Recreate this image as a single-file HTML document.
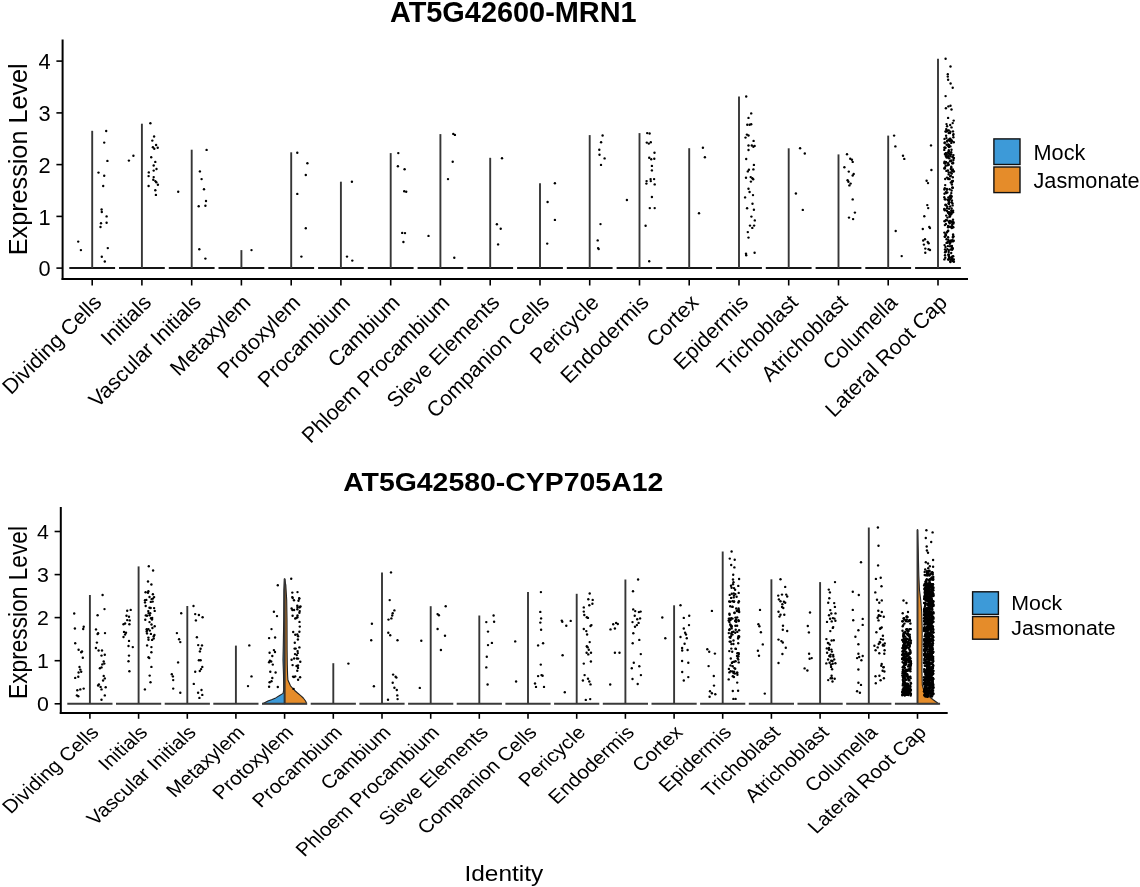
<!DOCTYPE html>
<html><head><meta charset="utf-8"><style>
html,body{margin:0;padding:0;background:#fff;}
svg{display:block;font-family:"Liberation Sans", sans-serif;will-change:transform;}
</style></head><body>
<svg width="1140" height="887" viewBox="0 0 1140 887">
<rect width="1140" height="887" fill="#fff"/>
<text transform="translate(513.30 21.70)" font-size="28.90" text-anchor="middle" font-weight="bold">AT5G42600-MRN1</text>
<text transform="translate(26.50 159.30) rotate(-90)" font-size="25.20" text-anchor="middle">Expression Level</text>
<line x1="56.4" x2="62.6" y1="268.1" y2="268.1" stroke="#000" stroke-width="1.6"/>
<text transform="translate(50.50 276.30)" font-size="21.80" text-anchor="end">0</text>
<line x1="56.4" x2="62.6" y1="216.4" y2="216.4" stroke="#000" stroke-width="1.6"/>
<text transform="translate(50.50 224.55)" font-size="21.80" text-anchor="end">1</text>
<line x1="56.4" x2="62.6" y1="164.6" y2="164.6" stroke="#000" stroke-width="1.6"/>
<text transform="translate(50.50 172.80)" font-size="21.80" text-anchor="end">2</text>
<line x1="56.4" x2="62.6" y1="112.9" y2="112.9" stroke="#000" stroke-width="1.6"/>
<text transform="translate(50.50 121.05)" font-size="21.80" text-anchor="end">3</text>
<line x1="56.4" x2="62.6" y1="61.1" y2="61.1" stroke="#000" stroke-width="1.6"/>
<text transform="translate(50.50 69.30)" font-size="21.80" text-anchor="end">4</text>

<line x1="69.3" x2="115.1" y1="268.1" y2="268.1" stroke="#151515" stroke-width="2"/>
<line x1="92.2" x2="92.2" y1="130.8" y2="268.1" stroke="#363636" stroke-width="1.9"/>
<line x1="119.0" x2="164.8" y1="268.1" y2="268.1" stroke="#151515" stroke-width="2"/>
<line x1="141.9" x2="141.9" y1="123.7" y2="268.1" stroke="#363636" stroke-width="1.9"/>
<line x1="168.8" x2="214.6" y1="268.1" y2="268.1" stroke="#151515" stroke-width="2"/>
<line x1="191.7" x2="191.7" y1="149.7" y2="268.1" stroke="#363636" stroke-width="1.9"/>
<line x1="218.5" x2="264.3" y1="268.1" y2="268.1" stroke="#151515" stroke-width="2"/>
<line x1="241.4" x2="241.4" y1="250.1" y2="268.1" stroke="#363636" stroke-width="1.9"/>
<line x1="268.3" x2="314.1" y1="268.1" y2="268.1" stroke="#151515" stroke-width="2"/>
<line x1="291.2" x2="291.2" y1="152.3" y2="268.1" stroke="#363636" stroke-width="1.9"/>
<line x1="318.1" x2="363.8" y1="268.1" y2="268.1" stroke="#151515" stroke-width="2"/>
<line x1="340.9" x2="340.9" y1="181.7" y2="268.1" stroke="#363636" stroke-width="1.9"/>
<line x1="367.8" x2="413.6" y1="268.1" y2="268.1" stroke="#151515" stroke-width="2"/>
<line x1="390.7" x2="390.7" y1="153.1" y2="268.1" stroke="#363636" stroke-width="1.9"/>
<line x1="417.6" x2="463.3" y1="268.1" y2="268.1" stroke="#151515" stroke-width="2"/>
<line x1="440.4" x2="440.4" y1="134.1" y2="268.1" stroke="#363636" stroke-width="1.9"/>
<line x1="467.3" x2="513.1" y1="268.1" y2="268.1" stroke="#151515" stroke-width="2"/>
<line x1="490.2" x2="490.2" y1="157.8" y2="268.1" stroke="#363636" stroke-width="1.9"/>
<line x1="517.1" x2="562.9" y1="268.1" y2="268.1" stroke="#151515" stroke-width="2"/>
<line x1="540.0" x2="540.0" y1="183.2" y2="268.1" stroke="#363636" stroke-width="1.9"/>
<line x1="566.8" x2="612.6" y1="268.1" y2="268.1" stroke="#151515" stroke-width="2"/>
<line x1="589.7" x2="589.7" y1="135.1" y2="268.1" stroke="#363636" stroke-width="1.9"/>
<line x1="616.6" x2="662.4" y1="268.1" y2="268.1" stroke="#151515" stroke-width="2"/>
<line x1="639.5" x2="639.5" y1="133.1" y2="268.1" stroke="#363636" stroke-width="1.9"/>
<line x1="666.3" x2="712.1" y1="268.1" y2="268.1" stroke="#151515" stroke-width="2"/>
<line x1="689.2" x2="689.2" y1="148.2" y2="268.1" stroke="#363636" stroke-width="1.9"/>
<line x1="716.1" x2="761.9" y1="268.1" y2="268.1" stroke="#151515" stroke-width="2"/>
<line x1="739.0" x2="739.0" y1="96.5" y2="268.1" stroke="#363636" stroke-width="1.9"/>
<line x1="765.8" x2="811.6" y1="268.1" y2="268.1" stroke="#151515" stroke-width="2"/>
<line x1="788.7" x2="788.7" y1="148.3" y2="268.1" stroke="#363636" stroke-width="1.9"/>
<line x1="815.6" x2="861.4" y1="268.1" y2="268.1" stroke="#151515" stroke-width="2"/>
<line x1="838.5" x2="838.5" y1="154.4" y2="268.1" stroke="#363636" stroke-width="1.9"/>
<line x1="865.3" x2="911.1" y1="268.1" y2="268.1" stroke="#151515" stroke-width="2"/>
<line x1="888.2" x2="888.2" y1="135.6" y2="268.1" stroke="#363636" stroke-width="1.9"/>
<line x1="915.1" x2="960.9" y1="268.1" y2="268.1" stroke="#151515" stroke-width="2"/>
<line x1="938.0" x2="938.0" y1="58.7" y2="268.1" stroke="#363636" stroke-width="1.9"/>
<g fill="#000"><circle cx="106.2" cy="131.0" r="1.20"/><circle cx="104.2" cy="142.6" r="1.20"/><circle cx="107.4" cy="160.9" r="1.20"/><circle cx="98.5" cy="172.6" r="1.20"/><circle cx="104.2" cy="175.7" r="1.20"/><circle cx="103.2" cy="186.0" r="1.20"/><circle cx="101.6" cy="209.5" r="1.20"/><circle cx="101.8" cy="212.0" r="1.20"/><circle cx="106.6" cy="216.4" r="1.20"/><circle cx="101.0" cy="223.3" r="1.20"/><circle cx="106.6" cy="222.7" r="1.20"/><circle cx="100.5" cy="227.0" r="1.20"/><circle cx="78.2" cy="241.6" r="1.20"/><circle cx="80.9" cy="250.1" r="1.20"/><circle cx="107.8" cy="248.1" r="1.20"/><circle cx="101.8" cy="256.8" r="1.20"/><circle cx="104.8" cy="261.5" r="1.20"/><circle cx="150.4" cy="123.3" r="1.20"/><circle cx="154.1" cy="136.5" r="1.20"/><circle cx="152.3" cy="140.6" r="1.20"/><circle cx="152.9" cy="147.3" r="1.20"/><circle cx="154.3" cy="148.7" r="1.20"/><circle cx="156.1" cy="145.0" r="1.20"/><circle cx="157.7" cy="147.7" r="1.20"/><circle cx="133.4" cy="155.8" r="1.20"/><circle cx="128.9" cy="160.6" r="1.20"/><circle cx="151.2" cy="157.2" r="1.20"/><circle cx="155.3" cy="161.9" r="1.20"/><circle cx="153.7" cy="165.5" r="1.20"/><circle cx="156.5" cy="169.0" r="1.20"/><circle cx="153.7" cy="170.6" r="1.20"/><circle cx="148.8" cy="172.4" r="1.20"/><circle cx="148.6" cy="176.1" r="1.20"/><circle cx="153.7" cy="177.1" r="1.20"/><circle cx="153.3" cy="179.7" r="1.20"/><circle cx="155.3" cy="181.1" r="1.20"/><circle cx="156.3" cy="182.2" r="1.20"/><circle cx="157.9" cy="184.8" r="1.20"/><circle cx="148.6" cy="186.0" r="1.20"/><circle cx="155.3" cy="190.3" r="1.20"/><circle cx="155.9" cy="194.9" r="1.20"/><circle cx="206.6" cy="149.9" r="1.20"/><circle cx="199.9" cy="171.4" r="1.20"/><circle cx="201.6" cy="179.1" r="1.20"/><circle cx="204.0" cy="189.2" r="1.20"/><circle cx="178.2" cy="191.7" r="1.20"/><circle cx="206.0" cy="201.0" r="1.20"/><circle cx="198.7" cy="206.3" r="1.20"/><circle cx="205.4" cy="205.7" r="1.20"/><circle cx="199.3" cy="249.3" r="1.20"/><circle cx="205.4" cy="258.6" r="1.20"/><circle cx="251.5" cy="250.1" r="1.20"/><circle cx="297.3" cy="152.7" r="1.20"/><circle cx="307.4" cy="163.3" r="1.20"/><circle cx="305.8" cy="175.0" r="1.20"/><circle cx="297.3" cy="193.9" r="1.20"/><circle cx="305.8" cy="228.2" r="1.20"/><circle cx="301.4" cy="256.6" r="1.20"/><circle cx="351.9" cy="181.7" r="1.20"/><circle cx="347.0" cy="256.6" r="1.20"/><circle cx="352.3" cy="260.6" r="1.20"/><circle cx="398.3" cy="153.1" r="1.20"/><circle cx="397.9" cy="166.3" r="1.20"/><circle cx="404.6" cy="169.2" r="1.20"/><circle cx="404.2" cy="191.3" r="1.20"/><circle cx="406.2" cy="191.7" r="1.20"/><circle cx="402.2" cy="232.9" r="1.20"/><circle cx="405.0" cy="233.1" r="1.20"/><circle cx="403.4" cy="242.0" r="1.20"/><circle cx="453.3" cy="133.9" r="1.20"/><circle cx="454.9" cy="134.9" r="1.20"/><circle cx="452.7" cy="161.7" r="1.20"/><circle cx="448.0" cy="179.1" r="1.20"/><circle cx="428.5" cy="235.9" r="1.20"/><circle cx="454.3" cy="257.8" r="1.20"/><circle cx="502.0" cy="158.2" r="1.20"/><circle cx="496.9" cy="224.3" r="1.20"/><circle cx="500.7" cy="228.8" r="1.20"/><circle cx="498.1" cy="244.4" r="1.20"/><circle cx="554.9" cy="183.2" r="1.20"/><circle cx="547.6" cy="202.0" r="1.20"/><circle cx="554.9" cy="219.9" r="1.20"/><circle cx="547.2" cy="243.6" r="1.20"/><circle cx="602.6" cy="135.5" r="1.20"/><circle cx="601.1" cy="142.2" r="1.20"/><circle cx="599.3" cy="149.7" r="1.20"/><circle cx="599.5" cy="154.8" r="1.20"/><circle cx="604.6" cy="158.4" r="1.20"/><circle cx="601.0" cy="164.9" r="1.20"/><circle cx="600.5" cy="224.1" r="1.20"/><circle cx="597.7" cy="240.4" r="1.20"/><circle cx="598.1" cy="248.1" r="1.20"/><circle cx="598.7" cy="249.1" r="1.20"/><circle cx="647.2" cy="133.1" r="1.20"/><circle cx="649.6" cy="133.5" r="1.20"/><circle cx="646.8" cy="142.6" r="1.20"/><circle cx="648.8" cy="143.6" r="1.20"/><circle cx="650.8" cy="142.2" r="1.20"/><circle cx="654.5" cy="152.7" r="1.20"/><circle cx="649.2" cy="157.8" r="1.20"/><circle cx="651.2" cy="159.2" r="1.20"/><circle cx="654.3" cy="158.8" r="1.20"/><circle cx="651.9" cy="165.9" r="1.20"/><circle cx="651.9" cy="170.4" r="1.20"/><circle cx="646.6" cy="181.1" r="1.20"/><circle cx="646.4" cy="183.6" r="1.20"/><circle cx="650.6" cy="179.1" r="1.20"/><circle cx="650.8" cy="181.1" r="1.20"/><circle cx="654.1" cy="179.1" r="1.20"/><circle cx="654.7" cy="184.4" r="1.20"/><circle cx="626.9" cy="200.0" r="1.20"/><circle cx="651.9" cy="197.0" r="1.20"/><circle cx="649.8" cy="208.1" r="1.20"/><circle cx="654.7" cy="208.1" r="1.20"/><circle cx="645.6" cy="225.8" r="1.20"/><circle cx="649.2" cy="261.3" r="1.20"/><circle cx="702.9" cy="147.7" r="1.20"/><circle cx="704.9" cy="157.2" r="1.20"/><circle cx="699.0" cy="213.2" r="1.20"/><circle cx="746.2" cy="96.5" r="1.20"/><circle cx="751.2" cy="113.4" r="1.20"/><circle cx="748.5" cy="117.9" r="1.20"/><circle cx="747.3" cy="124.7" r="1.20"/><circle cx="749.6" cy="124.7" r="1.20"/><circle cx="751.2" cy="124.2" r="1.20"/><circle cx="746.9" cy="134.6" r="1.20"/><circle cx="748.5" cy="135.5" r="1.20"/><circle cx="745.5" cy="137.6" r="1.20"/><circle cx="753.6" cy="140.9" r="1.20"/><circle cx="748.5" cy="145.5" r="1.20"/><circle cx="751.8" cy="145.5" r="1.20"/><circle cx="753.4" cy="146.8" r="1.20"/><circle cx="754.6" cy="145.9" r="1.20"/><circle cx="748.5" cy="150.0" r="1.20"/><circle cx="746.2" cy="159.0" r="1.20"/><circle cx="753.9" cy="164.9" r="1.20"/><circle cx="748.9" cy="169.8" r="1.20"/><circle cx="747.8" cy="171.4" r="1.20"/><circle cx="753.4" cy="169.4" r="1.20"/><circle cx="746.0" cy="177.7" r="1.20"/><circle cx="750.7" cy="177.1" r="1.20"/><circle cx="752.3" cy="178.2" r="1.20"/><circle cx="753.2" cy="179.3" r="1.20"/><circle cx="750.9" cy="181.6" r="1.20"/><circle cx="748.5" cy="188.8" r="1.20"/><circle cx="749.6" cy="192.0" r="1.20"/><circle cx="753.0" cy="195.1" r="1.20"/><circle cx="745.1" cy="197.4" r="1.20"/><circle cx="752.5" cy="203.7" r="1.20"/><circle cx="747.1" cy="208.2" r="1.20"/><circle cx="753.9" cy="209.8" r="1.20"/><circle cx="751.4" cy="216.6" r="1.20"/><circle cx="754.8" cy="220.4" r="1.20"/><circle cx="750.0" cy="225.6" r="1.20"/><circle cx="752.3" cy="227.9" r="1.20"/><circle cx="754.1" cy="225.6" r="1.20"/><circle cx="747.8" cy="232.1" r="1.20"/><circle cx="748.5" cy="237.6" r="1.20"/><circle cx="746.0" cy="253.8" r="1.20"/><circle cx="746.2" cy="255.2" r="1.20"/><circle cx="754.6" cy="252.7" r="1.20"/><circle cx="800.1" cy="148.3" r="1.20"/><circle cx="804.8" cy="153.5" r="1.20"/><circle cx="795.9" cy="193.5" r="1.20"/><circle cx="802.8" cy="209.9" r="1.20"/><circle cx="847.0" cy="154.2" r="1.20"/><circle cx="850.2" cy="158.8" r="1.20"/><circle cx="851.9" cy="159.8" r="1.20"/><circle cx="852.7" cy="161.9" r="1.20"/><circle cx="844.4" cy="167.3" r="1.20"/><circle cx="848.8" cy="171.6" r="1.20"/><circle cx="853.7" cy="174.0" r="1.20"/><circle cx="852.7" cy="175.5" r="1.20"/><circle cx="847.6" cy="180.3" r="1.20"/><circle cx="848.4" cy="181.7" r="1.20"/><circle cx="850.6" cy="183.6" r="1.20"/><circle cx="849.4" cy="185.4" r="1.20"/><circle cx="852.7" cy="199.4" r="1.20"/><circle cx="854.9" cy="212.6" r="1.20"/><circle cx="849.0" cy="217.6" r="1.20"/><circle cx="853.1" cy="219.1" r="1.20"/><circle cx="894.1" cy="135.6" r="1.20"/><circle cx="895.4" cy="146.4" r="1.20"/><circle cx="903.0" cy="155.8" r="1.20"/><circle cx="904.3" cy="158.9" r="1.20"/><circle cx="895.7" cy="231.0" r="1.20"/><circle cx="901.7" cy="256.1" r="1.20"/><circle cx="931.0" cy="145.4" r="1.20"/><circle cx="931.4" cy="170.0" r="1.20"/><circle cx="926.6" cy="180.8" r="1.20"/><circle cx="928.0" cy="183.1" r="1.20"/><circle cx="927.3" cy="205.1" r="1.20"/><circle cx="928.2" cy="208.1" r="1.20"/><circle cx="924.3" cy="216.2" r="1.20"/><circle cx="922.8" cy="229.0" r="1.20"/><circle cx="929.3" cy="227.0" r="1.20"/><circle cx="930.0" cy="228.1" r="1.20"/><circle cx="925.0" cy="239.2" r="1.20"/><circle cx="923.2" cy="240.5" r="1.20"/><circle cx="927.7" cy="241.9" r="1.20"/><circle cx="923.9" cy="244.6" r="1.20"/><circle cx="928.6" cy="243.2" r="1.20"/><circle cx="925.3" cy="248.6" r="1.20"/><circle cx="928.6" cy="249.3" r="1.20"/><circle cx="930.0" cy="250.0" r="1.20"/><circle cx="925.3" cy="252.7" r="1.20"/><circle cx="945.6" cy="58.7" r="1.20"/><circle cx="950.5" cy="66.5" r="1.20"/><circle cx="947.8" cy="74.2" r="1.20"/><circle cx="947.8" cy="76.6" r="1.20"/><circle cx="948.1" cy="79.7" r="1.20"/><circle cx="950.6" cy="83.5" r="1.20"/><circle cx="952.7" cy="87.8" r="1.20"/><circle cx="945.6" cy="96.1" r="1.20"/><circle cx="945.9" cy="108.2" r="1.20"/><circle cx="948.4" cy="106.4" r="1.20"/><circle cx="950.5" cy="105.8" r="1.20"/><circle cx="951.5" cy="109.5" r="1.20"/><circle cx="948.1" cy="117.9" r="1.20"/><circle cx="953.7" cy="120.6" r="1.20"/><circle cx="952.7" cy="123.1" r="1.20"/><circle cx="946.5" cy="124.1" r="1.20"/><circle cx="947.1" cy="126.2" r="1.20"/><circle cx="950.2" cy="125.0" r="1.20"/><circle cx="951.5" cy="127.4" r="1.20"/><circle cx="949.6" cy="189.2" r="1.20"/><circle cx="948.7" cy="251.9" r="1.20"/><circle cx="949.9" cy="196.5" r="1.20"/><circle cx="949.2" cy="153.6" r="1.20"/><circle cx="951.9" cy="212.8" r="1.20"/><circle cx="947.1" cy="141.5" r="1.20"/><circle cx="952.1" cy="141.1" r="1.20"/><circle cx="944.6" cy="221.2" r="1.20"/><circle cx="953.6" cy="259.6" r="1.20"/><circle cx="950.2" cy="216.0" r="1.20"/><circle cx="944.3" cy="149.9" r="1.20"/><circle cx="944.8" cy="199.3" r="1.20"/><circle cx="946.5" cy="154.3" r="1.20"/><circle cx="948.7" cy="133.0" r="1.20"/><circle cx="952.4" cy="187.6" r="1.20"/><circle cx="950.4" cy="198.0" r="1.20"/><circle cx="950.6" cy="195.5" r="1.20"/><circle cx="946.9" cy="189.8" r="1.20"/><circle cx="953.9" cy="261.7" r="1.20"/><circle cx="951.1" cy="240.7" r="1.20"/><circle cx="946.4" cy="170.9" r="1.20"/><circle cx="944.9" cy="167.4" r="1.20"/><circle cx="948.1" cy="230.9" r="1.20"/><circle cx="947.9" cy="241.6" r="1.20"/><circle cx="952.4" cy="256.4" r="1.20"/><circle cx="946.2" cy="129.1" r="1.20"/><circle cx="948.8" cy="250.1" r="1.20"/><circle cx="948.1" cy="259.4" r="1.20"/><circle cx="950.3" cy="138.7" r="1.20"/><circle cx="946.8" cy="232.5" r="1.20"/><circle cx="947.4" cy="140.6" r="1.20"/><circle cx="951.6" cy="257.2" r="1.20"/><circle cx="946.6" cy="144.7" r="1.20"/><circle cx="944.8" cy="142.4" r="1.20"/><circle cx="945.9" cy="235.0" r="1.20"/><circle cx="948.5" cy="203.4" r="1.20"/><circle cx="951.3" cy="154.4" r="1.20"/><circle cx="950.4" cy="146.4" r="1.20"/><circle cx="948.3" cy="144.5" r="1.20"/><circle cx="946.8" cy="157.3" r="1.20"/><circle cx="952.0" cy="258.1" r="1.20"/><circle cx="952.8" cy="169.5" r="1.20"/><circle cx="948.0" cy="157.0" r="1.20"/><circle cx="950.4" cy="242.6" r="1.20"/><circle cx="953.8" cy="142.3" r="1.20"/><circle cx="946.7" cy="157.4" r="1.20"/><circle cx="947.4" cy="231.8" r="1.20"/><circle cx="944.9" cy="168.4" r="1.20"/><circle cx="949.9" cy="141.0" r="1.20"/><circle cx="950.0" cy="161.3" r="1.20"/><circle cx="948.6" cy="178.4" r="1.20"/><circle cx="948.9" cy="256.6" r="1.20"/><circle cx="952.6" cy="205.4" r="1.20"/><circle cx="945.7" cy="153.3" r="1.20"/><circle cx="952.1" cy="249.8" r="1.20"/><circle cx="946.0" cy="162.2" r="1.20"/><circle cx="953.3" cy="227.3" r="1.20"/><circle cx="953.4" cy="155.1" r="1.20"/><circle cx="950.1" cy="246.3" r="1.20"/><circle cx="945.2" cy="185.1" r="1.20"/><circle cx="953.5" cy="134.1" r="1.20"/><circle cx="951.0" cy="160.7" r="1.20"/><circle cx="952.2" cy="163.2" r="1.20"/><circle cx="947.0" cy="208.3" r="1.20"/><circle cx="951.2" cy="152.3" r="1.20"/><circle cx="946.4" cy="138.1" r="1.20"/><circle cx="952.5" cy="203.4" r="1.20"/><circle cx="946.9" cy="210.7" r="1.20"/><circle cx="946.2" cy="251.0" r="1.20"/><circle cx="946.8" cy="131.2" r="1.20"/><circle cx="944.8" cy="188.3" r="1.20"/><circle cx="947.8" cy="152.4" r="1.20"/><circle cx="945.5" cy="205.1" r="1.20"/><circle cx="952.8" cy="177.2" r="1.20"/><circle cx="950.6" cy="259.4" r="1.20"/><circle cx="949.9" cy="220.9" r="1.20"/><circle cx="944.5" cy="147.7" r="1.20"/><circle cx="953.0" cy="131.4" r="1.20"/><circle cx="953.5" cy="222.2" r="1.20"/><circle cx="950.4" cy="131.8" r="1.20"/><circle cx="951.3" cy="193.1" r="1.20"/><circle cx="953.9" cy="171.4" r="1.20"/><circle cx="949.5" cy="139.0" r="1.20"/><circle cx="952.9" cy="227.0" r="1.20"/><circle cx="951.0" cy="227.0" r="1.20"/><circle cx="953.1" cy="234.5" r="1.20"/><circle cx="950.8" cy="175.8" r="1.20"/><circle cx="952.6" cy="248.8" r="1.20"/><circle cx="951.9" cy="184.5" r="1.20"/><circle cx="949.8" cy="243.8" r="1.20"/><circle cx="947.9" cy="212.1" r="1.20"/><circle cx="950.1" cy="206.5" r="1.20"/><circle cx="950.4" cy="139.7" r="1.20"/><circle cx="952.7" cy="261.1" r="1.20"/><circle cx="948.0" cy="225.9" r="1.20"/><circle cx="949.8" cy="226.8" r="1.20"/><circle cx="952.3" cy="187.6" r="1.20"/><circle cx="951.5" cy="140.1" r="1.20"/><circle cx="950.0" cy="133.0" r="1.20"/><circle cx="946.4" cy="193.0" r="1.20"/><circle cx="949.0" cy="221.9" r="1.20"/><circle cx="953.1" cy="210.7" r="1.20"/><circle cx="944.3" cy="163.0" r="1.20"/><circle cx="950.8" cy="169.0" r="1.20"/><circle cx="945.8" cy="155.9" r="1.20"/><circle cx="950.6" cy="249.5" r="1.20"/><circle cx="952.8" cy="187.8" r="1.20"/><circle cx="950.7" cy="172.5" r="1.20"/><circle cx="948.4" cy="155.4" r="1.20"/><circle cx="953.1" cy="236.2" r="1.20"/><circle cx="947.9" cy="246.1" r="1.20"/><circle cx="947.3" cy="206.6" r="1.20"/><circle cx="949.0" cy="147.1" r="1.20"/><circle cx="952.4" cy="240.3" r="1.20"/><circle cx="953.4" cy="223.6" r="1.20"/><circle cx="945.8" cy="165.8" r="1.20"/><circle cx="946.9" cy="188.9" r="1.20"/><circle cx="948.2" cy="157.5" r="1.20"/><circle cx="949.0" cy="212.2" r="1.20"/><circle cx="952.3" cy="170.9" r="1.20"/><circle cx="948.6" cy="259.6" r="1.20"/><circle cx="944.5" cy="138.9" r="1.20"/><circle cx="944.6" cy="245.1" r="1.20"/><circle cx="949.7" cy="223.2" r="1.20"/><circle cx="951.9" cy="170.1" r="1.20"/><circle cx="945.5" cy="131.5" r="1.20"/><circle cx="944.4" cy="189.5" r="1.20"/><circle cx="946.5" cy="239.3" r="1.20"/><circle cx="944.7" cy="147.7" r="1.20"/><circle cx="948.5" cy="212.7" r="1.20"/><circle cx="950.6" cy="212.8" r="1.20"/><circle cx="953.5" cy="236.4" r="1.20"/><circle cx="946.1" cy="220.0" r="1.20"/><circle cx="945.9" cy="192.2" r="1.20"/><circle cx="948.8" cy="130.4" r="1.20"/><circle cx="945.9" cy="224.0" r="1.20"/><circle cx="947.6" cy="165.2" r="1.20"/><circle cx="949.2" cy="221.7" r="1.20"/><circle cx="951.5" cy="210.7" r="1.20"/><circle cx="951.9" cy="181.3" r="1.20"/><circle cx="945.0" cy="249.5" r="1.20"/><circle cx="951.2" cy="253.0" r="1.20"/><circle cx="948.6" cy="146.3" r="1.20"/><circle cx="953.0" cy="212.2" r="1.20"/><circle cx="949.7" cy="179.1" r="1.20"/><circle cx="951.9" cy="245.9" r="1.20"/><circle cx="948.7" cy="254.6" r="1.20"/><circle cx="946.2" cy="215.6" r="1.20"/><circle cx="952.1" cy="225.0" r="1.20"/><circle cx="951.2" cy="214.3" r="1.20"/><circle cx="952.9" cy="157.4" r="1.20"/><circle cx="953.7" cy="259.4" r="1.20"/><circle cx="951.9" cy="200.4" r="1.20"/><circle cx="953.0" cy="171.6" r="1.20"/><circle cx="947.6" cy="242.8" r="1.20"/><circle cx="948.5" cy="140.0" r="1.20"/><circle cx="951.7" cy="202.2" r="1.20"/><circle cx="944.5" cy="193.8" r="1.20"/><circle cx="944.8" cy="236.6" r="1.20"/><circle cx="945.9" cy="235.4" r="1.20"/><circle cx="951.8" cy="173.6" r="1.20"/><circle cx="945.6" cy="147.7" r="1.20"/><circle cx="951.2" cy="197.7" r="1.20"/><circle cx="950.9" cy="240.7" r="1.20"/><circle cx="949.0" cy="254.8" r="1.20"/><circle cx="945.0" cy="255.2" r="1.20"/><circle cx="949.3" cy="158.4" r="1.20"/><circle cx="951.3" cy="167.6" r="1.20"/><circle cx="949.3" cy="214.0" r="1.20"/><circle cx="949.6" cy="241.2" r="1.20"/><circle cx="947.9" cy="170.5" r="1.20"/><circle cx="952.9" cy="241.4" r="1.20"/><circle cx="952.5" cy="156.7" r="1.20"/><circle cx="949.3" cy="257.8" r="1.20"/><circle cx="946.1" cy="205.2" r="1.20"/><circle cx="949.1" cy="200.3" r="1.20"/><circle cx="944.5" cy="209.5" r="1.20"/><circle cx="949.2" cy="257.9" r="1.20"/><circle cx="952.0" cy="182.3" r="1.20"/><circle cx="949.0" cy="203.9" r="1.20"/><circle cx="944.8" cy="220.9" r="1.20"/><circle cx="948.2" cy="200.6" r="1.20"/><circle cx="953.2" cy="256.3" r="1.20"/><circle cx="948.8" cy="164.8" r="1.20"/><circle cx="948.4" cy="145.9" r="1.20"/><circle cx="952.9" cy="237.5" r="1.20"/><circle cx="947.3" cy="192.4" r="1.20"/><circle cx="950.2" cy="154.5" r="1.20"/><circle cx="945.5" cy="252.1" r="1.20"/><circle cx="944.4" cy="232.6" r="1.20"/><circle cx="946.4" cy="154.8" r="1.20"/><circle cx="947.3" cy="220.4" r="1.20"/><circle cx="950.2" cy="176.3" r="1.20"/><circle cx="951.3" cy="142.9" r="1.20"/><circle cx="949.2" cy="145.3" r="1.20"/><circle cx="946.1" cy="162.3" r="1.20"/><circle cx="948.4" cy="199.5" r="1.20"/><circle cx="948.2" cy="179.0" r="1.20"/><circle cx="945.7" cy="199.4" r="1.20"/><circle cx="950.3" cy="156.2" r="1.20"/><circle cx="949.3" cy="213.9" r="1.20"/><circle cx="950.1" cy="242.2" r="1.20"/><circle cx="946.5" cy="242.9" r="1.20"/><circle cx="952.1" cy="227.5" r="1.20"/><circle cx="947.3" cy="249.1" r="1.20"/><circle cx="953.2" cy="170.9" r="1.20"/><circle cx="953.9" cy="158.0" r="1.20"/><circle cx="945.5" cy="247.0" r="1.20"/><circle cx="951.2" cy="160.8" r="1.20"/><circle cx="945.1" cy="163.5" r="1.20"/><circle cx="948.3" cy="239.7" r="1.20"/><circle cx="945.4" cy="234.1" r="1.20"/><circle cx="950.8" cy="182.6" r="1.20"/><circle cx="946.1" cy="131.4" r="1.20"/><circle cx="953.0" cy="219.8" r="1.20"/><circle cx="945.3" cy="257.8" r="1.20"/><circle cx="951.6" cy="196.3" r="1.20"/><circle cx="950.9" cy="195.9" r="1.20"/><circle cx="944.9" cy="154.1" r="1.20"/><circle cx="944.6" cy="143.1" r="1.20"/><circle cx="949.2" cy="202.4" r="1.20"/><circle cx="945.6" cy="204.6" r="1.20"/><circle cx="946.2" cy="153.5" r="1.20"/><circle cx="953.8" cy="240.7" r="1.20"/><circle cx="945.1" cy="252.3" r="1.20"/><circle cx="953.4" cy="137.2" r="1.20"/><circle cx="951.6" cy="190.5" r="1.20"/><circle cx="948.7" cy="172.5" r="1.20"/><circle cx="948.4" cy="197.5" r="1.20"/><circle cx="944.3" cy="208.9" r="1.20"/><circle cx="952.4" cy="222.2" r="1.20"/><circle cx="948.6" cy="153.1" r="1.20"/><circle cx="948.1" cy="227.3" r="1.20"/><circle cx="945.8" cy="155.0" r="1.20"/><circle cx="944.3" cy="197.2" r="1.20"/><circle cx="952.0" cy="247.8" r="1.20"/><circle cx="952.5" cy="222.7" r="1.20"/><circle cx="948.1" cy="212.7" r="1.20"/><circle cx="949.1" cy="208.7" r="1.20"/><circle cx="952.0" cy="259.7" r="1.20"/><circle cx="953.0" cy="163.3" r="1.20"/><circle cx="951.7" cy="228.0" r="1.20"/><circle cx="948.1" cy="237.3" r="1.20"/><circle cx="952.7" cy="248.2" r="1.20"/><circle cx="951.6" cy="221.4" r="1.20"/><circle cx="948.1" cy="230.8" r="1.20"/><circle cx="944.9" cy="225.1" r="1.20"/><circle cx="948.7" cy="174.4" r="1.20"/><circle cx="947.6" cy="130.4" r="1.20"/><circle cx="950.3" cy="213.9" r="1.20"/><circle cx="953.4" cy="159.9" r="1.20"/><circle cx="947.5" cy="217.6" r="1.20"/><circle cx="949.7" cy="216.7" r="1.20"/><circle cx="948.0" cy="199.9" r="1.20"/><circle cx="950.4" cy="262.0" r="1.20"/><circle cx="951.6" cy="222.3" r="1.20"/><circle cx="944.4" cy="259.4" r="1.20"/><circle cx="951.4" cy="210.8" r="1.20"/><circle cx="948.1" cy="163.1" r="1.20"/><circle cx="946.1" cy="135.7" r="1.20"/><circle cx="945.2" cy="179.0" r="1.20"/><circle cx="953.0" cy="162.4" r="1.20"/><circle cx="949.1" cy="202.2" r="1.20"/><circle cx="949.7" cy="257.6" r="1.20"/><circle cx="950.4" cy="261.3" r="1.20"/><circle cx="944.9" cy="236.7" r="1.20"/><circle cx="951.6" cy="208.5" r="1.20"/><circle cx="953.2" cy="135.0" r="1.20"/><circle cx="948.8" cy="150.3" r="1.20"/><circle cx="949.0" cy="151.5" r="1.20"/><circle cx="944.8" cy="210.3" r="1.20"/><circle cx="948.3" cy="254.7" r="1.20"/><circle cx="950.0" cy="199.1" r="1.20"/><circle cx="947.0" cy="177.6" r="1.20"/><circle cx="949.6" cy="216.1" r="1.20"/><circle cx="951.2" cy="166.7" r="1.20"/><circle cx="944.3" cy="168.4" r="1.20"/><circle cx="944.6" cy="161.6" r="1.20"/><circle cx="951.5" cy="149.8" r="1.20"/><circle cx="952.9" cy="180.9" r="1.20"/></g>
<line x1="62.6" x2="62.6" y1="39.5" y2="280.0" stroke="#000" stroke-width="2"/>
<line x1="61.6" x2="968.0" y1="279.0" y2="279.0" stroke="#000" stroke-width="2"/>
<line x1="92.2" x2="92.2" y1="279.0" y2="285.5" stroke="#000" stroke-width="1.6"/>
<line x1="141.9" x2="141.9" y1="279.0" y2="285.5" stroke="#000" stroke-width="1.6"/>
<line x1="191.7" x2="191.7" y1="279.0" y2="285.5" stroke="#000" stroke-width="1.6"/>
<line x1="241.4" x2="241.4" y1="279.0" y2="285.5" stroke="#000" stroke-width="1.6"/>
<line x1="291.2" x2="291.2" y1="279.0" y2="285.5" stroke="#000" stroke-width="1.6"/>
<line x1="340.9" x2="340.9" y1="279.0" y2="285.5" stroke="#000" stroke-width="1.6"/>
<line x1="390.7" x2="390.7" y1="279.0" y2="285.5" stroke="#000" stroke-width="1.6"/>
<line x1="440.4" x2="440.4" y1="279.0" y2="285.5" stroke="#000" stroke-width="1.6"/>
<line x1="490.2" x2="490.2" y1="279.0" y2="285.5" stroke="#000" stroke-width="1.6"/>
<line x1="540.0" x2="540.0" y1="279.0" y2="285.5" stroke="#000" stroke-width="1.6"/>
<line x1="589.7" x2="589.7" y1="279.0" y2="285.5" stroke="#000" stroke-width="1.6"/>
<line x1="639.5" x2="639.5" y1="279.0" y2="285.5" stroke="#000" stroke-width="1.6"/>
<line x1="689.2" x2="689.2" y1="279.0" y2="285.5" stroke="#000" stroke-width="1.6"/>
<line x1="739.0" x2="739.0" y1="279.0" y2="285.5" stroke="#000" stroke-width="1.6"/>
<line x1="788.7" x2="788.7" y1="279.0" y2="285.5" stroke="#000" stroke-width="1.6"/>
<line x1="838.5" x2="838.5" y1="279.0" y2="285.5" stroke="#000" stroke-width="1.6"/>
<line x1="888.2" x2="888.2" y1="279.0" y2="285.5" stroke="#000" stroke-width="1.6"/>
<line x1="938.0" x2="938.0" y1="279.0" y2="285.5" stroke="#000" stroke-width="1.6"/>
<text transform="translate(102.70 303.80) rotate(-45)" font-size="21.40" text-anchor="end">Dividing Cells</text>
<text transform="translate(152.45 303.80) rotate(-45)" font-size="21.40" text-anchor="end">Initials</text>
<text transform="translate(202.20 303.80) rotate(-45)" font-size="21.40" text-anchor="end">Vascular Initials</text>
<text transform="translate(251.95 303.80) rotate(-45)" font-size="21.40" text-anchor="end">Metaxylem</text>
<text transform="translate(301.70 303.80) rotate(-45)" font-size="21.40" text-anchor="end">Protoxylem</text>
<text transform="translate(351.45 303.80) rotate(-45)" font-size="21.40" text-anchor="end">Procambium</text>
<text transform="translate(401.20 303.80) rotate(-45)" font-size="21.40" text-anchor="end">Cambium</text>
<text transform="translate(450.95 303.80) rotate(-45)" font-size="21.40" text-anchor="end">Phloem Procambium</text>
<text transform="translate(500.70 303.80) rotate(-45)" font-size="21.40" text-anchor="end">Sieve Elements</text>
<text transform="translate(550.45 303.80) rotate(-45)" font-size="21.40" text-anchor="end">Companion Cells</text>
<text transform="translate(600.20 303.80) rotate(-45)" font-size="21.40" text-anchor="end">Pericycle</text>
<text transform="translate(649.95 303.80) rotate(-45)" font-size="21.40" text-anchor="end">Endodermis</text>
<text transform="translate(699.70 303.80) rotate(-45)" font-size="21.40" text-anchor="end">Cortex</text>
<text transform="translate(749.45 303.80) rotate(-45)" font-size="21.40" text-anchor="end">Epidermis</text>
<text transform="translate(799.20 303.80) rotate(-45)" font-size="21.40" text-anchor="end">Trichoblast</text>
<text transform="translate(848.95 303.80) rotate(-45)" font-size="21.40" text-anchor="end">Atrichoblast</text>
<text transform="translate(898.70 303.80) rotate(-45)" font-size="21.40" text-anchor="end">Columella</text>
<text transform="translate(948.45 303.80) rotate(-45)" font-size="21.40" text-anchor="end">Lateral Root Cap</text>
<rect x="993.9" y="138.9" width="26.1" height="25.6" fill="#3d9ad8" stroke="#111" stroke-width="1.4"/>
<rect x="993.9" y="167.0" width="26.1" height="25.6" fill="#e58c2a" stroke="#111" stroke-width="1.4"/>
<text transform="translate(1033.50 160.30)" font-size="21.70">Mock</text>
<text transform="translate(1033.50 188.30)" font-size="21.70">Jasmonate</text>
<text transform="translate(503.20 491.20) scale(1.100 1)" font-size="25.85" text-anchor="middle" font-weight="bold">AT5G42580-CYP705A12</text>
<text transform="translate(26.60 612.50) scale(1.100 1) rotate(-90)" font-size="22.70" text-anchor="middle">Expression Level</text>
<line x1="54.6" x2="60.8" y1="703.8" y2="703.8" stroke="#000" stroke-width="1.6"/>
<text transform="translate(48.80 711.40) scale(1.100 1)" font-size="19.40" text-anchor="end">0</text>
<line x1="54.6" x2="60.8" y1="660.7" y2="660.7" stroke="#000" stroke-width="1.6"/>
<text transform="translate(48.80 668.32) scale(1.100 1)" font-size="19.40" text-anchor="end">1</text>
<line x1="54.6" x2="60.8" y1="617.6" y2="617.6" stroke="#000" stroke-width="1.6"/>
<text transform="translate(48.80 625.24) scale(1.100 1)" font-size="19.40" text-anchor="end">2</text>
<line x1="54.6" x2="60.8" y1="574.6" y2="574.6" stroke="#000" stroke-width="1.6"/>
<text transform="translate(48.80 582.16) scale(1.100 1)" font-size="19.40" text-anchor="end">3</text>
<line x1="54.6" x2="60.8" y1="531.5" y2="531.5" stroke="#000" stroke-width="1.6"/>
<text transform="translate(48.80 539.08) scale(1.100 1)" font-size="19.40" text-anchor="end">4</text>
<path d="M284.6 579.0 L284.6 579.0 L283.9 590.0 L283.7 620.0 L283.3 645.0 L283.0 660.0 L283.5 675.0 L283.7 690.0 L283.1 693.4 L279.6 695.5 L275.7 697.9 L272.1 699.5 L267.9 701.0 L265.1 702.5 L262.6 703.8 L284.6 703.8 Z" fill="#3d9ad8" stroke="#222" stroke-width="1.1" stroke-linejoin="round"/><path d="M284.6 578.7 L284.6 578.7 L285.8 585.0 L286.7 600.0 L287.0 620.0 L287.1 650.0 L287.3 665.0 L287.6 675.0 L287.9 680.0 L290.5 685.8 L294.7 690.5 L297.6 693.0 L301.0 695.8 L303.3 698.0 L305.2 700.5 L306.1 702.0 L306.5 703.8 L284.6 703.8 Z" fill="#e58c2a" stroke="#222" stroke-width="1.1" stroke-linejoin="round"/><path d="M917.5 529.6 L917.5 529.6 L918.3 553.0 L918.8 575.0 L919.5 590.0 L920.7 600.0 L921.7 612.0 L922.2 630.0 L922.0 650.0 L921.9 670.0 L922.3 685.0 L924.0 691.0 L928.5 696.0 L933.5 700.0 L937.0 702.5 L938.5 703.8 L917.5 703.8 Z" fill="#e58c2a" stroke="#222" stroke-width="1.1" stroke-linejoin="round"/>
<line x1="67.3" x2="112.5" y1="703.8" y2="703.8" stroke="#3a3a3a" stroke-width="2"/>
<line x1="89.9" x2="89.9" y1="595.0" y2="703.8" stroke="#363636" stroke-width="1.9"/>
<line x1="116.0" x2="161.2" y1="703.8" y2="703.8" stroke="#3a3a3a" stroke-width="2"/>
<line x1="138.6" x2="138.6" y1="566.4" y2="703.8" stroke="#363636" stroke-width="1.9"/>
<line x1="164.7" x2="209.9" y1="703.8" y2="703.8" stroke="#3a3a3a" stroke-width="2"/>
<line x1="187.3" x2="187.3" y1="606.0" y2="703.8" stroke="#363636" stroke-width="1.9"/>
<line x1="213.3" x2="258.5" y1="703.8" y2="703.8" stroke="#3a3a3a" stroke-width="2"/>
<line x1="235.9" x2="235.9" y1="645.6" y2="703.8" stroke="#363636" stroke-width="1.9"/>
<line x1="262.0" x2="307.2" y1="703.8" y2="703.8" stroke="#3a3a3a" stroke-width="2"/>
<line x1="284.6" x2="284.6" y1="578.7" y2="703.8" stroke="#363636" stroke-width="1.9"/>
<line x1="310.7" x2="355.9" y1="703.8" y2="703.8" stroke="#3a3a3a" stroke-width="2"/>
<line x1="333.3" x2="333.3" y1="663.2" y2="703.8" stroke="#363636" stroke-width="1.9"/>
<line x1="359.4" x2="404.6" y1="703.8" y2="703.8" stroke="#3a3a3a" stroke-width="2"/>
<line x1="382.0" x2="382.0" y1="572.4" y2="703.8" stroke="#363636" stroke-width="1.9"/>
<line x1="408.1" x2="453.3" y1="703.8" y2="703.8" stroke="#3a3a3a" stroke-width="2"/>
<line x1="430.7" x2="430.7" y1="606.2" y2="703.8" stroke="#363636" stroke-width="1.9"/>
<line x1="456.7" x2="501.9" y1="703.8" y2="703.8" stroke="#3a3a3a" stroke-width="2"/>
<line x1="479.3" x2="479.3" y1="615.5" y2="703.8" stroke="#363636" stroke-width="1.9"/>
<line x1="505.4" x2="550.6" y1="703.8" y2="703.8" stroke="#3a3a3a" stroke-width="2"/>
<line x1="528.0" x2="528.0" y1="592.1" y2="703.8" stroke="#363636" stroke-width="1.9"/>
<line x1="554.1" x2="599.3" y1="703.8" y2="703.8" stroke="#3a3a3a" stroke-width="2"/>
<line x1="576.7" x2="576.7" y1="593.8" y2="703.8" stroke="#363636" stroke-width="1.9"/>
<line x1="602.8" x2="648.0" y1="703.8" y2="703.8" stroke="#3a3a3a" stroke-width="2"/>
<line x1="625.4" x2="625.4" y1="579.5" y2="703.8" stroke="#363636" stroke-width="1.9"/>
<line x1="651.5" x2="696.7" y1="703.8" y2="703.8" stroke="#3a3a3a" stroke-width="2"/>
<line x1="674.1" x2="674.1" y1="605.3" y2="703.8" stroke="#363636" stroke-width="1.9"/>
<line x1="700.1" x2="745.3" y1="703.8" y2="703.8" stroke="#3a3a3a" stroke-width="2"/>
<line x1="722.7" x2="722.7" y1="551.5" y2="703.8" stroke="#363636" stroke-width="1.9"/>
<line x1="748.8" x2="794.0" y1="703.8" y2="703.8" stroke="#3a3a3a" stroke-width="2"/>
<line x1="771.4" x2="771.4" y1="579.3" y2="703.8" stroke="#363636" stroke-width="1.9"/>
<line x1="797.5" x2="842.7" y1="703.8" y2="703.8" stroke="#3a3a3a" stroke-width="2"/>
<line x1="820.1" x2="820.1" y1="582.1" y2="703.8" stroke="#363636" stroke-width="1.9"/>
<line x1="846.2" x2="891.4" y1="703.8" y2="703.8" stroke="#3a3a3a" stroke-width="2"/>
<line x1="868.8" x2="868.8" y1="527.5" y2="703.8" stroke="#363636" stroke-width="1.9"/>
<line x1="894.9" x2="940.1" y1="703.8" y2="703.8" stroke="#3a3a3a" stroke-width="2"/>
<line x1="917.5" x2="917.5" y1="529.6" y2="703.8" stroke="#363636" stroke-width="1.9"/>
<g fill="#000"><circle cx="74.2" cy="613.5" r="1.20"/><circle cx="74.9" cy="628.5" r="1.20"/><circle cx="83.7" cy="626.8" r="1.20"/><circle cx="83.2" cy="629.0" r="1.20"/><circle cx="75.2" cy="643.2" r="1.20"/><circle cx="78.6" cy="649.7" r="1.20"/><circle cx="81.2" cy="652.2" r="1.20"/><circle cx="82.0" cy="651.4" r="1.20"/><circle cx="82.8" cy="657.8" r="1.20"/><circle cx="79.5" cy="667.0" r="1.20"/><circle cx="80.3" cy="669.6" r="1.20"/><circle cx="78.6" cy="672.5" r="1.20"/><circle cx="81.2" cy="671.7" r="1.20"/><circle cx="75.2" cy="677.9" r="1.20"/><circle cx="78.3" cy="676.8" r="1.20"/><circle cx="77.3" cy="690.3" r="1.20"/><circle cx="80.3" cy="689.4" r="1.20"/><circle cx="83.7" cy="688.6" r="1.20"/><circle cx="76.9" cy="695.4" r="1.20"/><circle cx="78.3" cy="696.2" r="1.20"/><circle cx="102.6" cy="595.0" r="1.20"/><circle cx="104.5" cy="609.1" r="1.20"/><circle cx="97.6" cy="615.3" r="1.20"/><circle cx="96.0" cy="629.4" r="1.20"/><circle cx="98.1" cy="633.3" r="1.20"/><circle cx="97.6" cy="634.1" r="1.20"/><circle cx="105.0" cy="633.1" r="1.20"/><circle cx="96.9" cy="642.6" r="1.20"/><circle cx="95.9" cy="648.0" r="1.20"/><circle cx="98.6" cy="650.5" r="1.20"/><circle cx="102.0" cy="650.5" r="1.20"/><circle cx="104.8" cy="654.8" r="1.20"/><circle cx="101.5" cy="655.6" r="1.20"/><circle cx="103.7" cy="661.5" r="1.20"/><circle cx="104.3" cy="663.6" r="1.20"/><circle cx="102.3" cy="664.4" r="1.20"/><circle cx="101.5" cy="667.4" r="1.20"/><circle cx="99.9" cy="668.3" r="1.20"/><circle cx="103.7" cy="675.9" r="1.20"/><circle cx="104.8" cy="678.4" r="1.20"/><circle cx="103.1" cy="680.5" r="1.20"/><circle cx="98.9" cy="684.4" r="1.20"/><circle cx="98.1" cy="685.5" r="1.20"/><circle cx="100.6" cy="686.9" r="1.20"/><circle cx="101.5" cy="689.4" r="1.20"/><circle cx="105.7" cy="687.2" r="1.20"/><circle cx="104.8" cy="695.4" r="1.20"/><circle cx="101.5" cy="699.8" r="1.20"/><circle cx="127.2" cy="610.8" r="1.20"/><circle cx="130.7" cy="609.9" r="1.20"/><circle cx="126.5" cy="615.8" r="1.20"/><circle cx="129.0" cy="616.7" r="1.20"/><circle cx="127.2" cy="620.1" r="1.20"/><circle cx="129.7" cy="620.4" r="1.20"/><circle cx="123.5" cy="624.3" r="1.20"/><circle cx="125.1" cy="623.5" r="1.20"/><circle cx="129.4" cy="624.3" r="1.20"/><circle cx="124.0" cy="631.9" r="1.20"/><circle cx="126.0" cy="632.8" r="1.20"/><circle cx="125.1" cy="634.5" r="1.20"/><circle cx="123.5" cy="637.0" r="1.20"/><circle cx="129.0" cy="640.9" r="1.20"/><circle cx="132.8" cy="647.1" r="1.20"/><circle cx="128.5" cy="646.0" r="1.20"/><circle cx="129.0" cy="655.6" r="1.20"/><circle cx="128.5" cy="661.2" r="1.20"/><circle cx="129.4" cy="671.3" r="1.20"/><circle cx="148.8" cy="566.3" r="1.20"/><circle cx="153.1" cy="570.5" r="1.20"/><circle cx="148.0" cy="581.5" r="1.20"/><circle cx="151.4" cy="584.5" r="1.20"/><circle cx="147.1" cy="645.4" r="1.20"/><circle cx="151.4" cy="647.1" r="1.20"/><circle cx="151.4" cy="652.2" r="1.20"/><circle cx="148.5" cy="657.3" r="1.20"/><circle cx="149.3" cy="658.1" r="1.20"/><circle cx="151.4" cy="666.9" r="1.20"/><circle cx="149.7" cy="675.6" r="1.20"/><circle cx="150.5" cy="682.2" r="1.20"/><circle cx="144.9" cy="689.4" r="1.20"/><circle cx="151.6" cy="599.1" r="1.20"/><circle cx="149.5" cy="622.1" r="1.20"/><circle cx="152.7" cy="601.6" r="1.20"/><circle cx="149.8" cy="630.6" r="1.20"/><circle cx="147.0" cy="615.7" r="1.20"/><circle cx="148.4" cy="591.2" r="1.20"/><circle cx="145.3" cy="619.7" r="1.20"/><circle cx="147.0" cy="629.9" r="1.20"/><circle cx="145.0" cy="602.4" r="1.20"/><circle cx="152.1" cy="639.9" r="1.20"/><circle cx="150.9" cy="633.9" r="1.20"/><circle cx="148.0" cy="592.7" r="1.20"/><circle cx="145.8" cy="615.4" r="1.20"/><circle cx="148.4" cy="637.6" r="1.20"/><circle cx="152.9" cy="598.6" r="1.20"/><circle cx="154.1" cy="597.1" r="1.20"/><circle cx="150.2" cy="613.2" r="1.20"/><circle cx="149.5" cy="607.8" r="1.20"/><circle cx="145.0" cy="600.2" r="1.20"/><circle cx="147.0" cy="633.4" r="1.20"/><circle cx="146.7" cy="629.2" r="1.20"/><circle cx="153.7" cy="638.5" r="1.20"/><circle cx="152.4" cy="628.0" r="1.20"/><circle cx="152.0" cy="619.5" r="1.20"/><circle cx="149.5" cy="597.0" r="1.20"/><circle cx="146.7" cy="631.5" r="1.20"/><circle cx="153.7" cy="636.2" r="1.20"/><circle cx="148.3" cy="611.1" r="1.20"/><circle cx="148.5" cy="613.1" r="1.20"/><circle cx="148.5" cy="639.7" r="1.20"/><circle cx="145.6" cy="592.3" r="1.20"/><circle cx="154.7" cy="626.2" r="1.20"/><circle cx="149.6" cy="615.3" r="1.20"/><circle cx="152.2" cy="618.0" r="1.20"/><circle cx="150.8" cy="601.9" r="1.20"/><circle cx="151.0" cy="618.3" r="1.20"/><circle cx="146.3" cy="599.9" r="1.20"/><circle cx="154.1" cy="608.1" r="1.20"/><circle cx="150.7" cy="608.0" r="1.20"/><circle cx="145.7" cy="606.0" r="1.20"/><circle cx="152.9" cy="594.2" r="1.20"/><circle cx="148.4" cy="629.1" r="1.20"/><circle cx="151.5" cy="624.5" r="1.20"/><circle cx="154.4" cy="635.0" r="1.20"/><circle cx="154.7" cy="610.9" r="1.20"/><circle cx="181.2" cy="613.3" r="1.20"/><circle cx="176.9" cy="633.1" r="1.20"/><circle cx="179.1" cy="639.2" r="1.20"/><circle cx="180.3" cy="642.1" r="1.20"/><circle cx="178.1" cy="662.4" r="1.20"/><circle cx="171.8" cy="674.2" r="1.20"/><circle cx="172.9" cy="676.4" r="1.20"/><circle cx="173.2" cy="680.1" r="1.20"/><circle cx="173.2" cy="688.6" r="1.20"/><circle cx="180.3" cy="692.8" r="1.20"/><circle cx="193.5" cy="606.0" r="1.20"/><circle cx="195.2" cy="614.1" r="1.20"/><circle cx="198.9" cy="615.0" r="1.20"/><circle cx="202.6" cy="617.2" r="1.20"/><circle cx="195.9" cy="620.4" r="1.20"/><circle cx="196.9" cy="637.3" r="1.20"/><circle cx="198.2" cy="645.1" r="1.20"/><circle cx="202.0" cy="645.4" r="1.20"/><circle cx="200.6" cy="648.8" r="1.20"/><circle cx="199.9" cy="651.4" r="1.20"/><circle cx="198.9" cy="660.2" r="1.20"/><circle cx="200.6" cy="660.2" r="1.20"/><circle cx="202.3" cy="666.9" r="1.20"/><circle cx="201.1" cy="669.1" r="1.20"/><circle cx="199.8" cy="671.0" r="1.20"/><circle cx="195.2" cy="671.7" r="1.20"/><circle cx="193.8" cy="683.9" r="1.20"/><circle cx="201.5" cy="690.0" r="1.20"/><circle cx="198.1" cy="692.8" r="1.20"/><circle cx="202.3" cy="694.9" r="1.20"/><circle cx="199.4" cy="697.9" r="1.20"/><circle cx="249.3" cy="645.4" r="1.20"/><circle cx="251.5" cy="676.4" r="1.20"/><circle cx="248.0" cy="686.1" r="1.20"/><circle cx="277.8" cy="585.3" r="1.20"/><circle cx="273.9" cy="611.8" r="1.20"/><circle cx="277.0" cy="616.1" r="1.20"/><circle cx="271.5" cy="629.1" r="1.20"/><circle cx="269.1" cy="638.1" r="1.20"/><circle cx="275.1" cy="637.5" r="1.20"/><circle cx="273.9" cy="650.1" r="1.20"/><circle cx="275.0" cy="652.0" r="1.20"/><circle cx="269.6" cy="652.8" r="1.20"/><circle cx="272.3" cy="656.0" r="1.20"/><circle cx="269.9" cy="660.7" r="1.20"/><circle cx="271.2" cy="661.5" r="1.20"/><circle cx="272.8" cy="664.6" r="1.20"/><circle cx="269.1" cy="662.3" r="1.20"/><circle cx="270.3" cy="671.7" r="1.20"/><circle cx="275.6" cy="672.5" r="1.20"/><circle cx="272.3" cy="678.0" r="1.20"/><circle cx="269.6" cy="682.3" r="1.20"/><circle cx="271.5" cy="681.2" r="1.20"/><circle cx="269.1" cy="686.7" r="1.20"/><circle cx="277.8" cy="687.0" r="1.20"/><circle cx="291.2" cy="578.7" r="1.20"/><circle cx="292.3" cy="592.6" r="1.20"/><circle cx="297.5" cy="592.1" r="1.20"/><circle cx="293.2" cy="632.0" r="1.20"/><circle cx="299.7" cy="611.1" r="1.20"/><circle cx="297.6" cy="651.1" r="1.20"/><circle cx="294.6" cy="648.6" r="1.20"/><circle cx="296.5" cy="666.0" r="1.20"/><circle cx="297.3" cy="670.8" r="1.20"/><circle cx="295.2" cy="676.4" r="1.20"/><circle cx="292.4" cy="610.0" r="1.20"/><circle cx="292.6" cy="665.1" r="1.20"/><circle cx="296.9" cy="658.5" r="1.20"/><circle cx="298.5" cy="600.8" r="1.20"/><circle cx="299.2" cy="598.2" r="1.20"/><circle cx="293.1" cy="676.6" r="1.20"/><circle cx="298.0" cy="665.4" r="1.20"/><circle cx="297.4" cy="607.1" r="1.20"/><circle cx="299.7" cy="607.0" r="1.20"/><circle cx="300.3" cy="661.8" r="1.20"/><circle cx="294.0" cy="600.2" r="1.20"/><circle cx="296.8" cy="655.1" r="1.20"/><circle cx="299.4" cy="612.7" r="1.20"/><circle cx="293.9" cy="677.1" r="1.20"/><circle cx="297.3" cy="609.2" r="1.20"/><circle cx="297.3" cy="634.5" r="1.20"/><circle cx="294.8" cy="642.8" r="1.20"/><circle cx="292.3" cy="597.1" r="1.20"/><circle cx="297.9" cy="639.5" r="1.20"/><circle cx="298.1" cy="636.3" r="1.20"/><circle cx="299.4" cy="647.4" r="1.20"/><circle cx="294.1" cy="658.5" r="1.20"/><circle cx="291.6" cy="608.5" r="1.20"/><circle cx="299.2" cy="598.8" r="1.20"/><circle cx="298.1" cy="679.8" r="1.20"/><circle cx="297.3" cy="605.6" r="1.20"/><circle cx="299.4" cy="607.4" r="1.20"/><circle cx="298.1" cy="658.6" r="1.20"/><circle cx="295.0" cy="654.1" r="1.20"/><circle cx="300.1" cy="677.3" r="1.20"/><circle cx="295.2" cy="618.5" r="1.20"/><circle cx="297.5" cy="666.1" r="1.20"/><circle cx="295.3" cy="634.8" r="1.20"/><circle cx="293.6" cy="688.9" r="1.20"/><circle cx="297.5" cy="615.5" r="1.20"/><circle cx="299.5" cy="621.9" r="1.20"/><circle cx="299.8" cy="626.6" r="1.20"/><circle cx="299.4" cy="631.8" r="1.20"/><circle cx="298.0" cy="667.9" r="1.20"/><circle cx="292.6" cy="615.8" r="1.20"/><circle cx="292.7" cy="598.0" r="1.20"/><circle cx="291.6" cy="659.7" r="1.20"/><circle cx="296.4" cy="618.0" r="1.20"/><circle cx="294.1" cy="610.0" r="1.20"/><circle cx="297.4" cy="617.2" r="1.20"/><circle cx="300.5" cy="606.5" r="1.20"/><circle cx="297.8" cy="653.1" r="1.20"/><circle cx="295.7" cy="648.6" r="1.20"/><circle cx="348.4" cy="663.6" r="1.20"/><circle cx="371.9" cy="623.8" r="1.20"/><circle cx="371.2" cy="640.2" r="1.20"/><circle cx="373.9" cy="686.2" r="1.20"/><circle cx="391.0" cy="572.4" r="1.20"/><circle cx="389.7" cy="600.1" r="1.20"/><circle cx="394.4" cy="610.4" r="1.20"/><circle cx="392.7" cy="613.3" r="1.20"/><circle cx="392.2" cy="615.5" r="1.20"/><circle cx="391.4" cy="618.4" r="1.20"/><circle cx="388.5" cy="619.6" r="1.20"/><circle cx="388.3" cy="632.8" r="1.20"/><circle cx="390.2" cy="635.3" r="1.20"/><circle cx="397.5" cy="640.2" r="1.20"/><circle cx="393.1" cy="674.6" r="1.20"/><circle cx="396.4" cy="677.6" r="1.20"/><circle cx="395.6" cy="676.8" r="1.20"/><circle cx="392.7" cy="682.7" r="1.20"/><circle cx="394.4" cy="687.7" r="1.20"/><circle cx="396.8" cy="690.0" r="1.20"/><circle cx="397.3" cy="695.4" r="1.20"/><circle cx="388.0" cy="699.8" r="1.20"/><circle cx="397.6" cy="699.1" r="1.20"/><circle cx="421.3" cy="640.7" r="1.20"/><circle cx="419.8" cy="687.9" r="1.20"/><circle cx="445.7" cy="606.2" r="1.20"/><circle cx="437.6" cy="614.1" r="1.20"/><circle cx="438.9" cy="615.3" r="1.20"/><circle cx="437.6" cy="629.0" r="1.20"/><circle cx="445.0" cy="635.8" r="1.20"/><circle cx="440.9" cy="650.0" r="1.20"/><circle cx="493.6" cy="615.5" r="1.20"/><circle cx="486.3" cy="622.1" r="1.20"/><circle cx="494.1" cy="621.8" r="1.20"/><circle cx="488.0" cy="631.6" r="1.20"/><circle cx="488.0" cy="645.1" r="1.20"/><circle cx="491.9" cy="642.9" r="1.20"/><circle cx="486.8" cy="656.8" r="1.20"/><circle cx="486.3" cy="667.4" r="1.20"/><circle cx="487.6" cy="684.5" r="1.20"/><circle cx="515.2" cy="641.4" r="1.20"/><circle cx="516.1" cy="681.5" r="1.20"/><circle cx="540.9" cy="592.1" r="1.20"/><circle cx="540.3" cy="611.9" r="1.20"/><circle cx="541.1" cy="618.4" r="1.20"/><circle cx="540.3" cy="622.6" r="1.20"/><circle cx="541.1" cy="629.7" r="1.20"/><circle cx="538.1" cy="645.4" r="1.20"/><circle cx="543.1" cy="643.2" r="1.20"/><circle cx="540.8" cy="664.6" r="1.20"/><circle cx="538.1" cy="676.1" r="1.20"/><circle cx="541.5" cy="675.1" r="1.20"/><circle cx="542.6" cy="675.7" r="1.20"/><circle cx="535.0" cy="683.5" r="1.20"/><circle cx="536.0" cy="686.9" r="1.20"/><circle cx="544.0" cy="686.9" r="1.20"/><circle cx="561.8" cy="620.6" r="1.20"/><circle cx="562.3" cy="621.8" r="1.20"/><circle cx="570.7" cy="620.9" r="1.20"/><circle cx="566.3" cy="625.7" r="1.20"/><circle cx="562.6" cy="655.3" r="1.20"/><circle cx="564.8" cy="692.3" r="1.20"/><circle cx="589.7" cy="593.5" r="1.20"/><circle cx="588.3" cy="599.3" r="1.20"/><circle cx="592.7" cy="599.9" r="1.20"/><circle cx="589.3" cy="605.3" r="1.20"/><circle cx="592.4" cy="603.7" r="1.20"/><circle cx="583.8" cy="607.4" r="1.20"/><circle cx="583.8" cy="611.6" r="1.20"/><circle cx="584.3" cy="615.0" r="1.20"/><circle cx="586.8" cy="617.2" r="1.20"/><circle cx="588.0" cy="617.9" r="1.20"/><circle cx="591.4" cy="625.1" r="1.20"/><circle cx="590.5" cy="626.0" r="1.20"/><circle cx="583.8" cy="629.0" r="1.20"/><circle cx="586.3" cy="631.1" r="1.20"/><circle cx="587.1" cy="634.5" r="1.20"/><circle cx="589.7" cy="642.1" r="1.20"/><circle cx="586.8" cy="646.3" r="1.20"/><circle cx="587.6" cy="647.3" r="1.20"/><circle cx="588.8" cy="649.7" r="1.20"/><circle cx="586.6" cy="652.7" r="1.20"/><circle cx="588.3" cy="654.4" r="1.20"/><circle cx="591.0" cy="652.7" r="1.20"/><circle cx="590.9" cy="661.5" r="1.20"/><circle cx="583.8" cy="663.6" r="1.20"/><circle cx="584.6" cy="675.1" r="1.20"/><circle cx="582.9" cy="680.5" r="1.20"/><circle cx="588.0" cy="678.8" r="1.20"/><circle cx="589.3" cy="681.5" r="1.20"/><circle cx="590.5" cy="684.4" r="1.20"/><circle cx="585.8" cy="699.9" r="1.20"/><circle cx="590.2" cy="699.1" r="1.20"/><circle cx="613.2" cy="624.3" r="1.20"/><circle cx="616.1" cy="622.9" r="1.20"/><circle cx="617.8" cy="624.0" r="1.20"/><circle cx="610.5" cy="629.4" r="1.20"/><circle cx="614.9" cy="628.5" r="1.20"/><circle cx="614.9" cy="652.7" r="1.20"/><circle cx="619.5" cy="652.7" r="1.20"/><circle cx="610.2" cy="684.5" r="1.20"/><circle cx="638.1" cy="579.5" r="1.20"/><circle cx="633.0" cy="591.3" r="1.20"/><circle cx="633.2" cy="609.4" r="1.20"/><circle cx="635.2" cy="611.1" r="1.20"/><circle cx="638.9" cy="612.1" r="1.20"/><circle cx="640.6" cy="611.6" r="1.20"/><circle cx="634.7" cy="615.8" r="1.20"/><circle cx="637.2" cy="619.2" r="1.20"/><circle cx="640.1" cy="618.4" r="1.20"/><circle cx="632.5" cy="622.1" r="1.20"/><circle cx="638.6" cy="622.9" r="1.20"/><circle cx="636.9" cy="625.1" r="1.20"/><circle cx="635.0" cy="626.8" r="1.20"/><circle cx="633.3" cy="633.3" r="1.20"/><circle cx="639.3" cy="639.9" r="1.20"/><circle cx="632.7" cy="643.2" r="1.20"/><circle cx="640.8" cy="654.1" r="1.20"/><circle cx="633.8" cy="662.7" r="1.20"/><circle cx="639.3" cy="666.3" r="1.20"/><circle cx="631.8" cy="668.3" r="1.20"/><circle cx="640.9" cy="675.1" r="1.20"/><circle cx="632.5" cy="679.0" r="1.20"/><circle cx="637.7" cy="684.0" r="1.20"/><circle cx="662.3" cy="617.5" r="1.20"/><circle cx="665.3" cy="638.2" r="1.20"/><circle cx="680.5" cy="605.3" r="1.20"/><circle cx="683.8" cy="617.9" r="1.20"/><circle cx="689.2" cy="615.8" r="1.20"/><circle cx="689.0" cy="625.1" r="1.20"/><circle cx="683.8" cy="628.5" r="1.20"/><circle cx="685.1" cy="632.8" r="1.20"/><circle cx="686.0" cy="634.5" r="1.20"/><circle cx="680.5" cy="637.0" r="1.20"/><circle cx="686.8" cy="638.3" r="1.20"/><circle cx="684.6" cy="643.8" r="1.20"/><circle cx="682.1" cy="648.0" r="1.20"/><circle cx="682.2" cy="650.5" r="1.20"/><circle cx="687.6" cy="650.0" r="1.20"/><circle cx="682.1" cy="661.0" r="1.20"/><circle cx="688.3" cy="662.7" r="1.20"/><circle cx="682.2" cy="672.0" r="1.20"/><circle cx="688.3" cy="677.1" r="1.20"/><circle cx="683.8" cy="680.5" r="1.20"/><circle cx="711.9" cy="610.9" r="1.20"/><circle cx="707.3" cy="649.2" r="1.20"/><circle cx="709.2" cy="651.7" r="1.20"/><circle cx="714.9" cy="653.6" r="1.20"/><circle cx="708.6" cy="666.1" r="1.20"/><circle cx="713.8" cy="676.0" r="1.20"/><circle cx="714.0" cy="685.6" r="1.20"/><circle cx="710.0" cy="691.3" r="1.20"/><circle cx="711.9" cy="693.3" r="1.20"/><circle cx="715.3" cy="694.2" r="1.20"/><circle cx="709.6" cy="696.7" r="1.20"/><circle cx="731.6" cy="551.5" r="1.20"/><circle cx="729.8" cy="558.6" r="1.20"/><circle cx="734.7" cy="559.7" r="1.20"/><circle cx="731.2" cy="565.0" r="1.20"/><circle cx="734.4" cy="567.4" r="1.20"/><circle cx="733.2" cy="574.8" r="1.20"/><circle cx="729.6" cy="614.8" r="1.20"/><circle cx="738.2" cy="611.3" r="1.20"/><circle cx="729.8" cy="618.8" r="1.20"/><circle cx="733.4" cy="644.0" r="1.20"/><circle cx="731.1" cy="636.1" r="1.20"/><circle cx="733.5" cy="582.3" r="1.20"/><circle cx="735.5" cy="648.8" r="1.20"/><circle cx="729.6" cy="637.1" r="1.20"/><circle cx="729.7" cy="594.9" r="1.20"/><circle cx="737.0" cy="672.8" r="1.20"/><circle cx="738.9" cy="601.3" r="1.20"/><circle cx="738.8" cy="636.6" r="1.20"/><circle cx="737.3" cy="631.9" r="1.20"/><circle cx="737.4" cy="653.2" r="1.20"/><circle cx="733.0" cy="584.3" r="1.20"/><circle cx="730.2" cy="624.4" r="1.20"/><circle cx="737.0" cy="656.0" r="1.20"/><circle cx="731.9" cy="662.9" r="1.20"/><circle cx="733.5" cy="673.0" r="1.20"/><circle cx="738.7" cy="592.9" r="1.20"/><circle cx="735.6" cy="698.9" r="1.20"/><circle cx="729.2" cy="630.0" r="1.20"/><circle cx="730.8" cy="658.5" r="1.20"/><circle cx="736.3" cy="621.7" r="1.20"/><circle cx="738.7" cy="662.4" r="1.20"/><circle cx="738.7" cy="653.1" r="1.20"/><circle cx="735.9" cy="648.9" r="1.20"/><circle cx="730.6" cy="671.2" r="1.20"/><circle cx="736.1" cy="619.4" r="1.20"/><circle cx="735.3" cy="594.1" r="1.20"/><circle cx="734.3" cy="668.1" r="1.20"/><circle cx="737.9" cy="653.1" r="1.20"/><circle cx="732.8" cy="676.2" r="1.20"/><circle cx="729.2" cy="601.5" r="1.20"/><circle cx="738.9" cy="610.1" r="1.20"/><circle cx="735.6" cy="621.3" r="1.20"/><circle cx="734.9" cy="673.6" r="1.20"/><circle cx="733.7" cy="597.4" r="1.20"/><circle cx="737.3" cy="672.7" r="1.20"/><circle cx="731.4" cy="626.9" r="1.20"/><circle cx="729.4" cy="613.8" r="1.20"/><circle cx="731.2" cy="633.8" r="1.20"/><circle cx="738.3" cy="585.9" r="1.20"/><circle cx="728.9" cy="668.9" r="1.20"/><circle cx="730.2" cy="606.3" r="1.20"/><circle cx="734.1" cy="601.4" r="1.20"/><circle cx="732.8" cy="691.0" r="1.20"/><circle cx="734.1" cy="671.7" r="1.20"/><circle cx="734.0" cy="595.6" r="1.20"/><circle cx="729.7" cy="629.2" r="1.20"/><circle cx="736.2" cy="608.5" r="1.20"/><circle cx="734.0" cy="601.7" r="1.20"/><circle cx="732.5" cy="606.9" r="1.20"/><circle cx="735.6" cy="661.3" r="1.20"/><circle cx="732.4" cy="671.5" r="1.20"/><circle cx="733.4" cy="698.9" r="1.20"/><circle cx="734.5" cy="612.7" r="1.20"/><circle cx="738.2" cy="611.0" r="1.20"/><circle cx="739.2" cy="612.0" r="1.20"/><circle cx="732.6" cy="662.1" r="1.20"/><circle cx="737.4" cy="674.7" r="1.20"/><circle cx="738.6" cy="608.4" r="1.20"/><circle cx="732.0" cy="632.2" r="1.20"/><circle cx="732.5" cy="601.2" r="1.20"/><circle cx="737.1" cy="625.8" r="1.20"/><circle cx="730.4" cy="637.8" r="1.20"/><circle cx="731.1" cy="597.9" r="1.20"/><circle cx="735.2" cy="620.8" r="1.20"/><circle cx="733.9" cy="677.0" r="1.20"/><circle cx="734.0" cy="588.1" r="1.20"/><circle cx="730.5" cy="665.4" r="1.20"/><circle cx="732.2" cy="651.8" r="1.20"/><circle cx="729.3" cy="651.1" r="1.20"/><circle cx="731.0" cy="585.7" r="1.20"/><circle cx="733.8" cy="593.5" r="1.20"/><circle cx="731.3" cy="618.3" r="1.20"/><circle cx="729.4" cy="672.4" r="1.20"/><circle cx="732.4" cy="606.7" r="1.20"/><circle cx="728.7" cy="620.5" r="1.20"/><circle cx="734.5" cy="613.0" r="1.20"/><circle cx="729.7" cy="641.6" r="1.20"/><circle cx="738.4" cy="602.6" r="1.20"/><circle cx="737.2" cy="682.6" r="1.20"/><circle cx="731.8" cy="593.7" r="1.20"/><circle cx="732.5" cy="618.6" r="1.20"/><circle cx="733.4" cy="631.8" r="1.20"/><circle cx="735.1" cy="589.7" r="1.20"/><circle cx="729.4" cy="622.0" r="1.20"/><circle cx="731.4" cy="644.1" r="1.20"/><circle cx="738.8" cy="654.1" r="1.20"/><circle cx="731.6" cy="628.4" r="1.20"/><circle cx="732.7" cy="666.2" r="1.20"/><circle cx="731.7" cy="626.3" r="1.20"/><circle cx="738.1" cy="690.7" r="1.20"/><circle cx="738.1" cy="638.5" r="1.20"/><circle cx="736.6" cy="596.8" r="1.20"/><circle cx="735.5" cy="617.6" r="1.20"/><circle cx="738.6" cy="636.1" r="1.20"/><circle cx="738.2" cy="643.2" r="1.20"/><circle cx="735.7" cy="629.7" r="1.20"/><circle cx="739.1" cy="630.2" r="1.20"/><circle cx="739.1" cy="579.0" r="1.20"/><circle cx="735.2" cy="632.8" r="1.20"/><circle cx="728.7" cy="679.4" r="1.20"/><circle cx="734.1" cy="661.7" r="1.20"/><circle cx="731.6" cy="587.7" r="1.20"/><circle cx="728.9" cy="618.6" r="1.20"/><circle cx="738.8" cy="621.1" r="1.20"/><circle cx="728.8" cy="633.1" r="1.20"/><circle cx="731.2" cy="625.7" r="1.20"/><circle cx="730.2" cy="619.6" r="1.20"/><circle cx="738.3" cy="659.6" r="1.20"/><circle cx="730.7" cy="625.6" r="1.20"/><circle cx="739.2" cy="636.8" r="1.20"/><circle cx="730.5" cy="619.9" r="1.20"/><circle cx="731.3" cy="648.6" r="1.20"/><circle cx="730.7" cy="641.8" r="1.20"/><circle cx="732.5" cy="634.6" r="1.20"/><circle cx="735.4" cy="625.8" r="1.20"/><circle cx="730.2" cy="601.8" r="1.20"/><circle cx="738.0" cy="610.2" r="1.20"/><circle cx="737.7" cy="658.2" r="1.20"/><circle cx="738.5" cy="620.3" r="1.20"/><circle cx="735.2" cy="668.7" r="1.20"/><circle cx="738.3" cy="637.4" r="1.20"/><circle cx="737.2" cy="617.4" r="1.20"/><circle cx="733.5" cy="640.5" r="1.20"/><circle cx="738.4" cy="656.3" r="1.20"/><circle cx="736.8" cy="611.0" r="1.20"/><circle cx="733.0" cy="579.5" r="1.20"/><circle cx="760.0" cy="609.9" r="1.20"/><circle cx="758.4" cy="624.3" r="1.20"/><circle cx="759.4" cy="626.2" r="1.20"/><circle cx="760.9" cy="632.3" r="1.20"/><circle cx="762.8" cy="644.4" r="1.20"/><circle cx="757.9" cy="650.7" r="1.20"/><circle cx="759.0" cy="655.7" r="1.20"/><circle cx="764.8" cy="693.6" r="1.20"/><circle cx="780.5" cy="579.3" r="1.20"/><circle cx="785.2" cy="586.9" r="1.20"/><circle cx="778.2" cy="595.6" r="1.20"/><circle cx="782.0" cy="594.6" r="1.20"/><circle cx="786.2" cy="594.6" r="1.20"/><circle cx="787.2" cy="596.5" r="1.20"/><circle cx="778.9" cy="599.4" r="1.20"/><circle cx="780.5" cy="601.3" r="1.20"/><circle cx="783.9" cy="601.7" r="1.20"/><circle cx="782.4" cy="604.2" r="1.20"/><circle cx="785.2" cy="602.8" r="1.20"/><circle cx="782.0" cy="607.0" r="1.20"/><circle cx="783.3" cy="608.0" r="1.20"/><circle cx="778.5" cy="611.8" r="1.20"/><circle cx="779.5" cy="616.6" r="1.20"/><circle cx="780.5" cy="614.7" r="1.20"/><circle cx="784.3" cy="614.7" r="1.20"/><circle cx="783.0" cy="625.8" r="1.20"/><circle cx="787.2" cy="631.0" r="1.20"/><circle cx="782.8" cy="629.7" r="1.20"/><circle cx="778.5" cy="639.6" r="1.20"/><circle cx="781.4" cy="641.1" r="1.20"/><circle cx="782.8" cy="642.5" r="1.20"/><circle cx="785.8" cy="647.7" r="1.20"/><circle cx="782.4" cy="654.0" r="1.20"/><circle cx="778.5" cy="663.0" r="1.20"/><circle cx="810.0" cy="612.5" r="1.20"/><circle cx="807.8" cy="626.0" r="1.20"/><circle cx="808.9" cy="632.4" r="1.20"/><circle cx="809.1" cy="653.8" r="1.20"/><circle cx="809.6" cy="658.8" r="1.20"/><circle cx="811.7" cy="658.1" r="1.20"/><circle cx="804.6" cy="668.4" r="1.20"/><circle cx="807.4" cy="670.5" r="1.20"/><circle cx="835.0" cy="582.1" r="1.20"/><circle cx="828.8" cy="589.6" r="1.20"/><circle cx="829.9" cy="592.4" r="1.20"/><circle cx="829.3" cy="598.2" r="1.20"/><circle cx="828.2" cy="602.7" r="1.20"/><circle cx="834.2" cy="603.1" r="1.20"/><circle cx="834.2" cy="659.4" r="1.20"/><circle cx="832.1" cy="678.2" r="1.20"/><circle cx="835.4" cy="620.8" r="1.20"/><circle cx="831.6" cy="675.7" r="1.20"/><circle cx="831.6" cy="640.5" r="1.20"/><circle cx="833.8" cy="640.2" r="1.20"/><circle cx="832.5" cy="661.0" r="1.20"/><circle cx="831.4" cy="649.6" r="1.20"/><circle cx="829.0" cy="615.3" r="1.20"/><circle cx="834.4" cy="618.6" r="1.20"/><circle cx="830.1" cy="618.8" r="1.20"/><circle cx="830.3" cy="631.1" r="1.20"/><circle cx="833.2" cy="627.1" r="1.20"/><circle cx="832.9" cy="618.1" r="1.20"/><circle cx="832.5" cy="681.5" r="1.20"/><circle cx="827.0" cy="621.9" r="1.20"/><circle cx="830.9" cy="664.7" r="1.20"/><circle cx="829.8" cy="644.6" r="1.20"/><circle cx="833.3" cy="656.6" r="1.20"/><circle cx="827.9" cy="642.9" r="1.20"/><circle cx="835.4" cy="663.3" r="1.20"/><circle cx="828.2" cy="680.1" r="1.20"/><circle cx="835.5" cy="613.4" r="1.20"/><circle cx="832.1" cy="669.3" r="1.20"/><circle cx="829.0" cy="648.0" r="1.20"/><circle cx="830.6" cy="654.6" r="1.20"/><circle cx="828.1" cy="659.5" r="1.20"/><circle cx="831.1" cy="666.9" r="1.20"/><circle cx="826.3" cy="663.4" r="1.20"/><circle cx="832.7" cy="663.7" r="1.20"/><circle cx="830.3" cy="610.1" r="1.20"/><circle cx="829.0" cy="649.8" r="1.20"/><circle cx="831.3" cy="613.5" r="1.20"/><circle cx="831.9" cy="651.6" r="1.20"/><circle cx="827.1" cy="652.7" r="1.20"/><circle cx="830.7" cy="678.2" r="1.20"/><circle cx="829.3" cy="656.0" r="1.20"/><circle cx="826.4" cy="639.1" r="1.20"/><circle cx="832.8" cy="627.9" r="1.20"/><circle cx="826.8" cy="648.4" r="1.20"/><circle cx="831.2" cy="660.8" r="1.20"/><circle cx="830.4" cy="656.6" r="1.20"/><circle cx="834.9" cy="606.9" r="1.20"/><circle cx="834.7" cy="678.7" r="1.20"/><circle cx="829.6" cy="662.7" r="1.20"/><circle cx="831.7" cy="621.4" r="1.20"/><circle cx="828.4" cy="643.3" r="1.20"/><circle cx="833.2" cy="655.0" r="1.20"/><circle cx="861.0" cy="562.2" r="1.20"/><circle cx="852.8" cy="591.7" r="1.20"/><circle cx="858.8" cy="595.0" r="1.20"/><circle cx="852.8" cy="609.9" r="1.20"/><circle cx="853.2" cy="620.2" r="1.20"/><circle cx="862.7" cy="618.9" r="1.20"/><circle cx="862.7" cy="624.9" r="1.20"/><circle cx="858.4" cy="630.3" r="1.20"/><circle cx="855.4" cy="636.7" r="1.20"/><circle cx="858.4" cy="644.2" r="1.20"/><circle cx="858.4" cy="653.8" r="1.20"/><circle cx="859.2" cy="657.0" r="1.20"/><circle cx="857.1" cy="658.1" r="1.20"/><circle cx="862.7" cy="656.0" r="1.20"/><circle cx="861.4" cy="660.3" r="1.20"/><circle cx="858.4" cy="669.5" r="1.20"/><circle cx="858.4" cy="682.7" r="1.20"/><circle cx="861.0" cy="684.9" r="1.20"/><circle cx="857.1" cy="691.3" r="1.20"/><circle cx="859.9" cy="692.8" r="1.20"/><circle cx="877.9" cy="527.5" r="1.20"/><circle cx="878.5" cy="545.7" r="1.20"/><circle cx="878.1" cy="565.4" r="1.20"/><circle cx="875.9" cy="578.9" r="1.20"/><circle cx="880.7" cy="577.8" r="1.20"/><circle cx="881.5" cy="586.2" r="1.20"/><circle cx="875.3" cy="592.4" r="1.20"/><circle cx="880.1" cy="642.6" r="1.20"/><circle cx="883.8" cy="616.7" r="1.20"/><circle cx="879.3" cy="653.3" r="1.20"/><circle cx="881.7" cy="663.9" r="1.20"/><circle cx="879.4" cy="675.7" r="1.20"/><circle cx="881.8" cy="600.4" r="1.20"/><circle cx="880.9" cy="639.1" r="1.20"/><circle cx="879.3" cy="602.7" r="1.20"/><circle cx="883.7" cy="667.1" r="1.20"/><circle cx="882.6" cy="670.8" r="1.20"/><circle cx="884.8" cy="643.4" r="1.20"/><circle cx="883.9" cy="678.3" r="1.20"/><circle cx="876.4" cy="632.2" r="1.20"/><circle cx="881.7" cy="627.4" r="1.20"/><circle cx="878.7" cy="644.0" r="1.20"/><circle cx="882.9" cy="635.7" r="1.20"/><circle cx="878.3" cy="610.8" r="1.20"/><circle cx="881.3" cy="665.8" r="1.20"/><circle cx="877.0" cy="599.8" r="1.20"/><circle cx="880.6" cy="680.2" r="1.20"/><circle cx="880.5" cy="615.9" r="1.20"/><circle cx="884.4" cy="671.5" r="1.20"/><circle cx="883.4" cy="667.2" r="1.20"/><circle cx="879.7" cy="641.9" r="1.20"/><circle cx="877.6" cy="617.7" r="1.20"/><circle cx="875.8" cy="683.3" r="1.20"/><circle cx="884.1" cy="645.6" r="1.20"/><circle cx="884.6" cy="650.2" r="1.20"/><circle cx="874.4" cy="645.8" r="1.20"/><circle cx="881.8" cy="612.0" r="1.20"/><circle cx="880.0" cy="628.8" r="1.20"/><circle cx="883.0" cy="644.7" r="1.20"/><circle cx="883.0" cy="639.6" r="1.20"/><circle cx="878.6" cy="615.9" r="1.20"/><circle cx="882.9" cy="645.6" r="1.20"/><circle cx="875.5" cy="676.2" r="1.20"/><circle cx="884.3" cy="653.7" r="1.20"/><circle cx="878.9" cy="615.1" r="1.20"/><circle cx="878.5" cy="620.4" r="1.20"/><circle cx="880.6" cy="628.2" r="1.20"/><circle cx="875.6" cy="650.2" r="1.20"/><circle cx="877.7" cy="647.4" r="1.20"/><circle cx="903.5" cy="600.5" r="1.20"/><circle cx="906.5" cy="603.0" r="1.20"/><circle cx="908.0" cy="612.0" r="1.20"/><circle cx="910.8" cy="629.1" r="1.20"/><circle cx="903.7" cy="632.7" r="1.20"/><circle cx="903.7" cy="634.9" r="1.20"/><circle cx="907.7" cy="630.5" r="1.20"/><circle cx="902.7" cy="613.2" r="1.20"/><circle cx="908.5" cy="630.9" r="1.20"/><circle cx="904.2" cy="619.4" r="1.20"/><circle cx="902.7" cy="621.3" r="1.20"/><circle cx="906.9" cy="629.8" r="1.20"/><circle cx="903.4" cy="633.9" r="1.20"/><circle cx="906.4" cy="629.3" r="1.20"/><circle cx="906.4" cy="616.7" r="1.20"/><circle cx="908.3" cy="630.7" r="1.20"/><circle cx="902.7" cy="626.3" r="1.20"/><circle cx="907.0" cy="629.3" r="1.20"/><circle cx="907.5" cy="630.9" r="1.20"/><circle cx="909.5" cy="620.4" r="1.20"/><circle cx="906.1" cy="621.2" r="1.20"/><circle cx="903.3" cy="625.1" r="1.20"/><circle cx="905.2" cy="633.0" r="1.20"/><circle cx="909.5" cy="620.9" r="1.20"/><circle cx="906.8" cy="619.4" r="1.20"/><circle cx="906.7" cy="633.8" r="1.20"/><circle cx="910.4" cy="623.5" r="1.20"/><circle cx="905.6" cy="620.3" r="1.20"/><circle cx="907.7" cy="634.6" r="1.20"/><circle cx="904.4" cy="623.6" r="1.20"/><circle cx="908.0" cy="633.2" r="1.20"/><circle cx="902.5" cy="630.8" r="1.20"/><circle cx="909.5" cy="620.5" r="1.20"/><circle cx="903.5" cy="618.4" r="1.20"/><circle cx="905.3" cy="631.7" r="1.20"/><circle cx="902.4" cy="621.3" r="1.20"/><circle cx="909.8" cy="634.6" r="1.20"/><circle cx="904.1" cy="618.1" r="1.20"/><circle cx="908.0" cy="621.4" r="1.20"/><circle cx="907.6" cy="617.1" r="1.20"/><circle cx="909.7" cy="620.2" r="1.20"/><circle cx="907.0" cy="616.4" r="1.20"/><circle cx="909.4" cy="629.1" r="1.20"/><circle cx="904.1" cy="656.5" r="1.20"/><circle cx="908.7" cy="686.8" r="1.20"/><circle cx="906.3" cy="691.5" r="1.20"/><circle cx="910.6" cy="662.0" r="1.20"/><circle cx="908.4" cy="669.9" r="1.20"/><circle cx="910.0" cy="638.0" r="1.20"/><circle cx="903.0" cy="670.1" r="1.20"/><circle cx="910.6" cy="661.0" r="1.20"/><circle cx="904.2" cy="643.2" r="1.20"/><circle cx="905.3" cy="662.0" r="1.20"/><circle cx="909.1" cy="642.5" r="1.20"/><circle cx="907.7" cy="678.1" r="1.20"/><circle cx="905.9" cy="694.6" r="1.20"/><circle cx="906.4" cy="662.5" r="1.20"/><circle cx="902.2" cy="654.7" r="1.20"/><circle cx="902.4" cy="659.0" r="1.20"/><circle cx="908.7" cy="659.3" r="1.20"/><circle cx="906.3" cy="660.7" r="1.20"/><circle cx="902.3" cy="692.0" r="1.20"/><circle cx="903.4" cy="655.3" r="1.20"/><circle cx="905.5" cy="662.4" r="1.20"/><circle cx="908.7" cy="660.7" r="1.20"/><circle cx="909.4" cy="691.3" r="1.20"/><circle cx="904.4" cy="690.9" r="1.20"/><circle cx="909.0" cy="662.3" r="1.20"/><circle cx="904.4" cy="647.5" r="1.20"/><circle cx="908.2" cy="642.5" r="1.20"/><circle cx="910.4" cy="667.9" r="1.20"/><circle cx="910.7" cy="695.6" r="1.20"/><circle cx="905.6" cy="653.4" r="1.20"/><circle cx="908.0" cy="635.2" r="1.20"/><circle cx="907.4" cy="674.6" r="1.20"/><circle cx="906.4" cy="676.3" r="1.20"/><circle cx="907.9" cy="684.0" r="1.20"/><circle cx="904.3" cy="662.7" r="1.20"/><circle cx="906.8" cy="684.8" r="1.20"/><circle cx="904.3" cy="684.1" r="1.20"/><circle cx="903.1" cy="646.0" r="1.20"/><circle cx="909.3" cy="680.3" r="1.20"/><circle cx="908.1" cy="644.9" r="1.20"/><circle cx="905.6" cy="641.2" r="1.20"/><circle cx="907.1" cy="674.1" r="1.20"/><circle cx="902.6" cy="671.8" r="1.20"/><circle cx="906.8" cy="694.8" r="1.20"/><circle cx="902.4" cy="651.6" r="1.20"/><circle cx="903.8" cy="663.2" r="1.20"/><circle cx="904.4" cy="682.6" r="1.20"/><circle cx="905.7" cy="648.4" r="1.20"/><circle cx="902.8" cy="689.4" r="1.20"/><circle cx="905.1" cy="654.2" r="1.20"/><circle cx="903.6" cy="644.6" r="1.20"/><circle cx="907.9" cy="693.7" r="1.20"/><circle cx="903.3" cy="678.1" r="1.20"/><circle cx="907.2" cy="690.9" r="1.20"/><circle cx="910.5" cy="652.6" r="1.20"/><circle cx="906.2" cy="664.4" r="1.20"/><circle cx="904.0" cy="684.9" r="1.20"/><circle cx="910.6" cy="666.1" r="1.20"/><circle cx="906.8" cy="655.3" r="1.20"/><circle cx="908.1" cy="686.7" r="1.20"/><circle cx="903.4" cy="658.7" r="1.20"/><circle cx="902.8" cy="691.4" r="1.20"/><circle cx="909.6" cy="646.8" r="1.20"/><circle cx="904.5" cy="663.5" r="1.20"/><circle cx="907.2" cy="645.3" r="1.20"/><circle cx="905.4" cy="646.1" r="1.20"/><circle cx="906.6" cy="642.1" r="1.20"/><circle cx="909.6" cy="645.1" r="1.20"/><circle cx="907.5" cy="655.7" r="1.20"/><circle cx="908.4" cy="655.4" r="1.20"/><circle cx="904.8" cy="695.5" r="1.20"/><circle cx="908.4" cy="692.3" r="1.20"/><circle cx="905.6" cy="686.8" r="1.20"/><circle cx="903.4" cy="676.5" r="1.20"/><circle cx="904.6" cy="682.0" r="1.20"/><circle cx="904.4" cy="694.8" r="1.20"/><circle cx="902.2" cy="640.0" r="1.20"/><circle cx="910.5" cy="678.2" r="1.20"/><circle cx="903.7" cy="638.8" r="1.20"/><circle cx="906.9" cy="670.0" r="1.20"/><circle cx="903.5" cy="681.2" r="1.20"/><circle cx="904.7" cy="687.4" r="1.20"/><circle cx="902.5" cy="673.4" r="1.20"/><circle cx="910.2" cy="685.1" r="1.20"/><circle cx="904.6" cy="649.6" r="1.20"/><circle cx="905.1" cy="690.8" r="1.20"/><circle cx="907.3" cy="669.7" r="1.20"/><circle cx="905.4" cy="687.9" r="1.20"/><circle cx="904.8" cy="684.7" r="1.20"/><circle cx="902.3" cy="648.1" r="1.20"/><circle cx="902.7" cy="667.2" r="1.20"/><circle cx="908.6" cy="658.9" r="1.20"/><circle cx="905.2" cy="636.6" r="1.20"/><circle cx="904.4" cy="671.6" r="1.20"/><circle cx="908.2" cy="659.2" r="1.20"/><circle cx="906.9" cy="659.2" r="1.20"/><circle cx="905.9" cy="669.9" r="1.20"/><circle cx="906.2" cy="639.8" r="1.20"/><circle cx="905.3" cy="689.4" r="1.20"/><circle cx="906.9" cy="647.6" r="1.20"/><circle cx="910.1" cy="640.0" r="1.20"/><circle cx="902.3" cy="658.9" r="1.20"/><circle cx="909.0" cy="693.2" r="1.20"/><circle cx="907.7" cy="688.7" r="1.20"/><circle cx="904.8" cy="673.4" r="1.20"/><circle cx="910.2" cy="693.8" r="1.20"/><circle cx="904.4" cy="653.6" r="1.20"/><circle cx="905.7" cy="689.3" r="1.20"/><circle cx="903.9" cy="635.1" r="1.20"/><circle cx="903.6" cy="671.2" r="1.20"/><circle cx="904.2" cy="683.2" r="1.20"/><circle cx="908.1" cy="666.4" r="1.20"/><circle cx="905.0" cy="641.4" r="1.20"/><circle cx="910.9" cy="664.7" r="1.20"/><circle cx="905.6" cy="683.9" r="1.20"/><circle cx="908.9" cy="689.4" r="1.20"/><circle cx="909.1" cy="653.9" r="1.20"/><circle cx="904.0" cy="656.7" r="1.20"/><circle cx="904.7" cy="667.8" r="1.20"/><circle cx="904.2" cy="658.9" r="1.20"/><circle cx="909.7" cy="657.1" r="1.20"/><circle cx="905.7" cy="679.7" r="1.20"/><circle cx="905.3" cy="639.8" r="1.20"/><circle cx="909.5" cy="636.3" r="1.20"/><circle cx="910.6" cy="682.8" r="1.20"/><circle cx="908.3" cy="677.0" r="1.20"/><circle cx="909.6" cy="657.9" r="1.20"/><circle cx="905.4" cy="639.3" r="1.20"/><circle cx="910.4" cy="691.8" r="1.20"/><circle cx="904.2" cy="683.3" r="1.20"/><circle cx="902.6" cy="654.7" r="1.20"/><circle cx="908.4" cy="645.0" r="1.20"/><circle cx="906.1" cy="656.5" r="1.20"/><circle cx="906.8" cy="694.5" r="1.20"/><circle cx="910.5" cy="658.4" r="1.20"/><circle cx="905.9" cy="639.7" r="1.20"/><circle cx="909.9" cy="688.4" r="1.20"/><circle cx="903.5" cy="660.0" r="1.20"/><circle cx="902.8" cy="654.7" r="1.20"/><circle cx="906.4" cy="684.1" r="1.20"/><circle cx="904.4" cy="658.5" r="1.20"/><circle cx="903.5" cy="674.1" r="1.20"/><circle cx="905.7" cy="671.8" r="1.20"/><circle cx="905.8" cy="686.7" r="1.20"/><circle cx="905.5" cy="679.7" r="1.20"/><circle cx="906.9" cy="671.1" r="1.20"/><circle cx="911.0" cy="683.5" r="1.20"/><circle cx="903.0" cy="692.7" r="1.20"/><circle cx="909.6" cy="691.5" r="1.20"/><circle cx="907.0" cy="647.1" r="1.20"/><circle cx="909.4" cy="668.5" r="1.20"/><circle cx="905.9" cy="679.8" r="1.20"/><circle cx="908.1" cy="687.2" r="1.20"/><circle cx="904.0" cy="675.2" r="1.20"/><circle cx="909.5" cy="649.4" r="1.20"/><circle cx="907.1" cy="658.5" r="1.20"/><circle cx="908.1" cy="642.3" r="1.20"/><circle cx="907.6" cy="688.3" r="1.20"/><circle cx="907.9" cy="670.7" r="1.20"/><circle cx="910.1" cy="677.0" r="1.20"/><circle cx="909.3" cy="662.3" r="1.20"/><circle cx="905.5" cy="687.3" r="1.20"/><circle cx="904.7" cy="657.3" r="1.20"/><circle cx="908.5" cy="685.7" r="1.20"/><circle cx="908.9" cy="670.0" r="1.20"/><circle cx="910.5" cy="651.1" r="1.20"/><circle cx="908.9" cy="639.9" r="1.20"/><circle cx="907.7" cy="639.0" r="1.20"/><circle cx="906.4" cy="653.2" r="1.20"/><circle cx="903.5" cy="672.6" r="1.20"/><circle cx="902.7" cy="691.9" r="1.20"/><circle cx="902.8" cy="685.4" r="1.20"/><circle cx="904.9" cy="643.3" r="1.20"/><circle cx="909.8" cy="645.7" r="1.20"/><circle cx="904.8" cy="644.9" r="1.20"/><circle cx="902.5" cy="662.1" r="1.20"/><circle cx="905.0" cy="693.5" r="1.20"/><circle cx="903.0" cy="669.5" r="1.20"/><circle cx="907.8" cy="676.1" r="1.20"/><circle cx="906.0" cy="651.6" r="1.20"/><circle cx="907.6" cy="694.5" r="1.20"/><circle cx="904.0" cy="681.2" r="1.20"/><circle cx="905.2" cy="693.1" r="1.20"/><circle cx="909.0" cy="689.7" r="1.20"/><circle cx="903.0" cy="650.5" r="1.20"/><circle cx="908.1" cy="678.7" r="1.20"/><circle cx="906.7" cy="655.1" r="1.20"/><circle cx="903.7" cy="694.7" r="1.20"/><circle cx="904.8" cy="692.3" r="1.20"/><circle cx="910.9" cy="661.8" r="1.20"/><circle cx="907.1" cy="685.5" r="1.20"/><circle cx="904.1" cy="678.6" r="1.20"/><circle cx="903.9" cy="646.1" r="1.20"/><circle cx="903.6" cy="692.5" r="1.20"/><circle cx="910.9" cy="689.9" r="1.20"/><circle cx="906.1" cy="685.9" r="1.20"/><circle cx="910.9" cy="694.0" r="1.20"/><circle cx="906.7" cy="688.2" r="1.20"/><circle cx="903.2" cy="635.8" r="1.20"/><circle cx="902.6" cy="692.5" r="1.20"/><circle cx="909.8" cy="659.9" r="1.20"/><circle cx="905.1" cy="690.6" r="1.20"/><circle cx="904.8" cy="675.8" r="1.20"/><circle cx="903.4" cy="688.1" r="1.20"/><circle cx="908.5" cy="643.2" r="1.20"/><circle cx="910.5" cy="643.6" r="1.20"/><circle cx="908.3" cy="641.9" r="1.20"/><circle cx="910.3" cy="689.1" r="1.20"/><circle cx="906.8" cy="690.2" r="1.20"/><circle cx="908.1" cy="691.3" r="1.20"/><circle cx="908.4" cy="695.0" r="1.20"/><circle cx="903.6" cy="636.9" r="1.20"/><circle cx="905.2" cy="660.3" r="1.20"/><circle cx="904.7" cy="674.2" r="1.20"/><circle cx="903.7" cy="685.5" r="1.20"/><circle cx="909.6" cy="654.0" r="1.20"/><circle cx="909.9" cy="662.0" r="1.20"/><circle cx="904.8" cy="648.5" r="1.20"/><circle cx="910.4" cy="664.6" r="1.20"/><circle cx="906.2" cy="658.5" r="1.20"/><circle cx="903.1" cy="677.2" r="1.20"/><circle cx="902.6" cy="658.0" r="1.20"/><circle cx="906.4" cy="660.7" r="1.20"/><circle cx="905.7" cy="661.0" r="1.20"/><circle cx="902.3" cy="675.6" r="1.20"/><circle cx="903.2" cy="657.7" r="1.20"/><circle cx="903.4" cy="647.3" r="1.20"/><circle cx="906.8" cy="686.8" r="1.20"/><circle cx="904.9" cy="649.7" r="1.20"/><circle cx="909.4" cy="636.5" r="1.20"/><circle cx="905.4" cy="672.7" r="1.20"/><circle cx="905.7" cy="686.6" r="1.20"/><circle cx="907.5" cy="660.1" r="1.20"/><circle cx="906.6" cy="641.4" r="1.20"/><circle cx="903.0" cy="690.3" r="1.20"/><circle cx="908.9" cy="666.1" r="1.20"/><circle cx="903.3" cy="672.9" r="1.20"/><circle cx="908.4" cy="691.4" r="1.20"/><circle cx="911.0" cy="663.2" r="1.20"/><circle cx="903.8" cy="678.0" r="1.20"/><circle cx="906.8" cy="694.0" r="1.20"/><circle cx="910.1" cy="665.5" r="1.20"/><circle cx="902.3" cy="659.0" r="1.20"/><circle cx="906.3" cy="652.1" r="1.20"/><circle cx="909.9" cy="650.1" r="1.20"/><circle cx="904.7" cy="664.3" r="1.20"/><circle cx="903.7" cy="665.9" r="1.20"/><circle cx="906.1" cy="692.2" r="1.20"/><circle cx="910.5" cy="661.3" r="1.20"/><circle cx="903.4" cy="650.7" r="1.20"/><circle cx="905.1" cy="664.9" r="1.20"/><circle cx="909.5" cy="652.4" r="1.20"/><circle cx="907.5" cy="683.6" r="1.20"/><circle cx="907.8" cy="686.5" r="1.20"/><circle cx="902.5" cy="694.2" r="1.20"/><circle cx="902.3" cy="695.2" r="1.20"/><circle cx="906.4" cy="692.4" r="1.20"/><circle cx="907.9" cy="642.6" r="1.20"/><circle cx="910.3" cy="669.2" r="1.20"/><circle cx="903.7" cy="641.1" r="1.20"/><circle cx="910.2" cy="664.8" r="1.20"/><circle cx="908.0" cy="653.5" r="1.20"/><circle cx="907.7" cy="687.4" r="1.20"/><circle cx="904.0" cy="645.0" r="1.20"/><circle cx="908.2" cy="688.3" r="1.20"/><circle cx="905.7" cy="683.3" r="1.20"/><circle cx="906.0" cy="664.0" r="1.20"/><circle cx="905.5" cy="673.6" r="1.20"/><circle cx="904.7" cy="692.5" r="1.20"/><circle cx="904.3" cy="689.6" r="1.20"/><circle cx="910.2" cy="653.2" r="1.20"/><circle cx="906.3" cy="645.7" r="1.20"/><circle cx="904.1" cy="651.1" r="1.20"/><circle cx="904.1" cy="648.2" r="1.20"/><circle cx="905.4" cy="639.1" r="1.20"/><circle cx="904.9" cy="670.6" r="1.20"/><circle cx="903.6" cy="636.6" r="1.20"/><circle cx="906.8" cy="670.9" r="1.20"/><circle cx="906.8" cy="654.8" r="1.20"/><circle cx="906.0" cy="648.2" r="1.20"/><circle cx="910.2" cy="676.8" r="1.20"/><circle cx="908.7" cy="647.9" r="1.20"/><circle cx="904.3" cy="689.0" r="1.20"/><circle cx="905.0" cy="642.5" r="1.20"/><circle cx="903.6" cy="640.7" r="1.20"/><circle cx="903.1" cy="641.8" r="1.20"/><circle cx="903.4" cy="670.0" r="1.20"/><circle cx="910.9" cy="640.7" r="1.20"/><circle cx="906.5" cy="662.0" r="1.20"/><circle cx="910.4" cy="671.2" r="1.20"/><circle cx="905.9" cy="638.7" r="1.20"/><circle cx="904.4" cy="647.5" r="1.20"/><circle cx="910.8" cy="693.9" r="1.20"/><circle cx="906.4" cy="689.0" r="1.20"/><circle cx="908.9" cy="665.0" r="1.20"/><circle cx="908.8" cy="657.4" r="1.20"/><circle cx="904.7" cy="685.6" r="1.20"/><circle cx="906.4" cy="670.5" r="1.20"/><circle cx="903.6" cy="666.6" r="1.20"/><circle cx="904.7" cy="667.8" r="1.20"/><circle cx="908.6" cy="680.3" r="1.20"/><circle cx="903.9" cy="655.5" r="1.20"/><circle cx="910.5" cy="686.7" r="1.20"/><circle cx="903.5" cy="652.8" r="1.20"/><circle cx="903.2" cy="681.9" r="1.20"/><circle cx="904.9" cy="677.9" r="1.20"/><circle cx="902.9" cy="683.9" r="1.20"/><circle cx="906.2" cy="638.5" r="1.20"/><circle cx="904.7" cy="640.3" r="1.20"/><circle cx="903.0" cy="653.9" r="1.20"/><circle cx="910.8" cy="642.7" r="1.20"/><circle cx="906.9" cy="691.6" r="1.20"/><circle cx="907.1" cy="642.7" r="1.20"/><circle cx="904.1" cy="658.3" r="1.20"/><circle cx="903.9" cy="677.3" r="1.20"/><circle cx="906.2" cy="674.5" r="1.20"/><circle cx="909.4" cy="690.0" r="1.20"/><circle cx="909.4" cy="659.9" r="1.20"/><circle cx="902.8" cy="679.9" r="1.20"/><circle cx="907.3" cy="676.5" r="1.20"/><circle cx="926.4" cy="530.2" r="1.20"/><circle cx="932.6" cy="532.4" r="1.20"/><circle cx="925.8" cy="538.0" r="1.20"/><circle cx="931.2" cy="542.0" r="1.20"/><circle cx="926.7" cy="546.5" r="1.20"/><circle cx="926.9" cy="550.5" r="1.20"/><circle cx="928.0" cy="552.7" r="1.20"/><circle cx="933.1" cy="560.0" r="1.20"/><circle cx="925.8" cy="562.3" r="1.20"/><circle cx="928.0" cy="563.5" r="1.20"/><circle cx="929.8" cy="566.3" r="1.20"/><circle cx="933.1" cy="566.8" r="1.20"/><circle cx="924.7" cy="571.9" r="1.20"/><circle cx="926.9" cy="573.0" r="1.20"/><circle cx="930.3" cy="574.2" r="1.20"/><circle cx="932.6" cy="573.0" r="1.20"/><circle cx="928.8" cy="580.4" r="1.20"/><circle cx="931.0" cy="573.6" r="1.20"/><circle cx="930.0" cy="583.5" r="1.20"/><circle cx="929.6" cy="571.5" r="1.20"/><circle cx="933.2" cy="579.7" r="1.20"/><circle cx="927.7" cy="573.0" r="1.20"/><circle cx="927.6" cy="572.9" r="1.20"/><circle cx="925.8" cy="575.3" r="1.20"/><circle cx="932.3" cy="578.9" r="1.20"/><circle cx="932.7" cy="574.5" r="1.20"/><circle cx="926.8" cy="579.2" r="1.20"/><circle cx="928.7" cy="580.1" r="1.20"/><circle cx="927.3" cy="575.5" r="1.20"/><circle cx="931.8" cy="579.3" r="1.20"/><circle cx="928.5" cy="583.5" r="1.20"/><circle cx="926.4" cy="582.5" r="1.20"/><circle cx="924.7" cy="575.0" r="1.20"/><circle cx="929.8" cy="583.0" r="1.20"/><circle cx="933.3" cy="577.0" r="1.20"/><circle cx="931.1" cy="578.5" r="1.20"/><circle cx="930.3" cy="579.6" r="1.20"/><circle cx="929.3" cy="575.5" r="1.20"/><circle cx="926.0" cy="581.3" r="1.20"/><circle cx="926.8" cy="571.1" r="1.20"/><circle cx="930.9" cy="584.0" r="1.20"/><circle cx="929.7" cy="581.0" r="1.20"/><circle cx="927.8" cy="571.7" r="1.20"/><circle cx="926.0" cy="582.1" r="1.20"/><circle cx="924.9" cy="583.7" r="1.20"/><circle cx="929.6" cy="574.7" r="1.20"/><circle cx="932.3" cy="572.2" r="1.20"/><circle cx="932.3" cy="579.6" r="1.20"/><circle cx="931.8" cy="577.5" r="1.20"/><circle cx="925.5" cy="581.8" r="1.20"/><circle cx="925.2" cy="569.5" r="1.20"/><circle cx="931.9" cy="572.5" r="1.20"/><circle cx="929.3" cy="583.2" r="1.20"/><circle cx="929.6" cy="579.3" r="1.20"/><circle cx="933.2" cy="579.0" r="1.20"/><circle cx="926.3" cy="580.1" r="1.20"/><circle cx="927.4" cy="574.4" r="1.20"/><circle cx="929.3" cy="570.6" r="1.20"/><circle cx="928.3" cy="574.4" r="1.20"/><circle cx="928.4" cy="571.1" r="1.20"/><circle cx="928.2" cy="568.3" r="1.20"/><circle cx="928.2" cy="674.9" r="1.20"/><circle cx="927.4" cy="586.7" r="1.20"/><circle cx="926.3" cy="609.5" r="1.20"/><circle cx="927.3" cy="685.3" r="1.20"/><circle cx="927.6" cy="658.0" r="1.20"/><circle cx="930.5" cy="648.2" r="1.20"/><circle cx="929.7" cy="663.0" r="1.20"/><circle cx="930.3" cy="662.8" r="1.20"/><circle cx="931.4" cy="585.9" r="1.20"/><circle cx="929.2" cy="597.1" r="1.20"/><circle cx="928.2" cy="591.0" r="1.20"/><circle cx="926.4" cy="614.3" r="1.20"/><circle cx="924.6" cy="660.4" r="1.20"/><circle cx="931.8" cy="654.5" r="1.20"/><circle cx="926.3" cy="588.2" r="1.20"/><circle cx="928.2" cy="603.8" r="1.20"/><circle cx="928.7" cy="604.4" r="1.20"/><circle cx="932.7" cy="588.2" r="1.20"/><circle cx="927.9" cy="636.6" r="1.20"/><circle cx="926.2" cy="690.4" r="1.20"/><circle cx="931.3" cy="651.0" r="1.20"/><circle cx="930.4" cy="615.2" r="1.20"/><circle cx="927.5" cy="693.6" r="1.20"/><circle cx="929.5" cy="686.5" r="1.20"/><circle cx="932.0" cy="696.4" r="1.20"/><circle cx="932.3" cy="681.6" r="1.20"/><circle cx="932.9" cy="694.5" r="1.20"/><circle cx="933.4" cy="595.1" r="1.20"/><circle cx="930.8" cy="656.1" r="1.20"/><circle cx="931.2" cy="691.2" r="1.20"/><circle cx="928.1" cy="668.2" r="1.20"/><circle cx="927.6" cy="681.6" r="1.20"/><circle cx="928.1" cy="632.9" r="1.20"/><circle cx="928.3" cy="608.2" r="1.20"/><circle cx="933.5" cy="618.7" r="1.20"/><circle cx="930.6" cy="659.4" r="1.20"/><circle cx="930.7" cy="597.2" r="1.20"/><circle cx="924.3" cy="659.0" r="1.20"/><circle cx="925.8" cy="616.1" r="1.20"/><circle cx="932.5" cy="670.6" r="1.20"/><circle cx="931.8" cy="648.2" r="1.20"/><circle cx="925.8" cy="629.7" r="1.20"/><circle cx="931.2" cy="604.6" r="1.20"/><circle cx="928.0" cy="682.3" r="1.20"/><circle cx="929.2" cy="584.6" r="1.20"/><circle cx="928.7" cy="598.5" r="1.20"/><circle cx="927.8" cy="592.0" r="1.20"/><circle cx="927.0" cy="693.2" r="1.20"/><circle cx="928.1" cy="676.8" r="1.20"/><circle cx="925.6" cy="595.5" r="1.20"/><circle cx="924.7" cy="682.0" r="1.20"/><circle cx="932.6" cy="587.5" r="1.20"/><circle cx="929.7" cy="597.5" r="1.20"/><circle cx="930.2" cy="692.1" r="1.20"/><circle cx="926.0" cy="600.8" r="1.20"/><circle cx="927.1" cy="608.6" r="1.20"/><circle cx="929.6" cy="690.5" r="1.20"/><circle cx="927.3" cy="590.0" r="1.20"/><circle cx="932.5" cy="680.4" r="1.20"/><circle cx="929.8" cy="595.5" r="1.20"/><circle cx="928.4" cy="656.0" r="1.20"/><circle cx="927.2" cy="618.8" r="1.20"/><circle cx="924.5" cy="627.3" r="1.20"/><circle cx="924.3" cy="624.5" r="1.20"/><circle cx="926.1" cy="691.0" r="1.20"/><circle cx="924.6" cy="620.3" r="1.20"/><circle cx="931.1" cy="619.3" r="1.20"/><circle cx="933.5" cy="678.9" r="1.20"/><circle cx="930.5" cy="603.5" r="1.20"/><circle cx="930.5" cy="639.3" r="1.20"/><circle cx="928.3" cy="626.3" r="1.20"/><circle cx="932.7" cy="617.0" r="1.20"/><circle cx="929.9" cy="648.0" r="1.20"/><circle cx="927.2" cy="670.3" r="1.20"/><circle cx="924.9" cy="682.4" r="1.20"/><circle cx="928.1" cy="609.0" r="1.20"/><circle cx="932.3" cy="592.3" r="1.20"/><circle cx="931.5" cy="623.0" r="1.20"/><circle cx="927.5" cy="669.7" r="1.20"/><circle cx="925.2" cy="688.4" r="1.20"/><circle cx="929.4" cy="669.1" r="1.20"/><circle cx="925.1" cy="616.8" r="1.20"/><circle cx="930.1" cy="605.2" r="1.20"/><circle cx="933.0" cy="626.6" r="1.20"/><circle cx="928.7" cy="677.3" r="1.20"/><circle cx="925.2" cy="605.6" r="1.20"/><circle cx="928.2" cy="628.9" r="1.20"/><circle cx="931.2" cy="667.9" r="1.20"/><circle cx="924.0" cy="618.2" r="1.20"/><circle cx="933.4" cy="587.5" r="1.20"/><circle cx="931.4" cy="645.6" r="1.20"/><circle cx="926.6" cy="656.1" r="1.20"/><circle cx="930.4" cy="600.3" r="1.20"/><circle cx="930.2" cy="626.5" r="1.20"/><circle cx="929.7" cy="692.0" r="1.20"/><circle cx="924.6" cy="618.3" r="1.20"/><circle cx="925.7" cy="655.5" r="1.20"/><circle cx="931.9" cy="679.0" r="1.20"/><circle cx="930.3" cy="654.5" r="1.20"/><circle cx="931.9" cy="655.7" r="1.20"/><circle cx="924.7" cy="613.8" r="1.20"/><circle cx="925.2" cy="684.1" r="1.20"/><circle cx="929.6" cy="610.1" r="1.20"/><circle cx="927.0" cy="669.2" r="1.20"/><circle cx="925.4" cy="687.1" r="1.20"/><circle cx="928.5" cy="674.7" r="1.20"/><circle cx="927.8" cy="641.5" r="1.20"/><circle cx="932.5" cy="680.8" r="1.20"/><circle cx="926.1" cy="677.8" r="1.20"/><circle cx="931.4" cy="675.5" r="1.20"/><circle cx="930.6" cy="598.5" r="1.20"/><circle cx="931.1" cy="649.7" r="1.20"/><circle cx="929.4" cy="626.8" r="1.20"/><circle cx="929.8" cy="627.7" r="1.20"/><circle cx="932.0" cy="678.4" r="1.20"/><circle cx="930.5" cy="601.5" r="1.20"/><circle cx="927.6" cy="628.7" r="1.20"/><circle cx="924.0" cy="662.7" r="1.20"/><circle cx="931.4" cy="644.1" r="1.20"/><circle cx="927.3" cy="647.4" r="1.20"/><circle cx="924.1" cy="631.1" r="1.20"/><circle cx="924.0" cy="677.2" r="1.20"/><circle cx="926.3" cy="688.7" r="1.20"/><circle cx="930.6" cy="627.2" r="1.20"/><circle cx="926.2" cy="686.2" r="1.20"/><circle cx="927.5" cy="597.4" r="1.20"/><circle cx="927.6" cy="596.7" r="1.20"/><circle cx="931.2" cy="600.6" r="1.20"/><circle cx="929.4" cy="653.4" r="1.20"/><circle cx="927.6" cy="618.3" r="1.20"/><circle cx="931.9" cy="594.1" r="1.20"/><circle cx="924.9" cy="644.0" r="1.20"/><circle cx="928.9" cy="593.4" r="1.20"/><circle cx="933.2" cy="659.0" r="1.20"/><circle cx="929.2" cy="612.6" r="1.20"/><circle cx="926.0" cy="678.5" r="1.20"/><circle cx="929.8" cy="679.1" r="1.20"/><circle cx="924.3" cy="628.5" r="1.20"/><circle cx="929.8" cy="626.9" r="1.20"/><circle cx="932.1" cy="628.4" r="1.20"/><circle cx="927.7" cy="593.9" r="1.20"/><circle cx="929.2" cy="587.9" r="1.20"/><circle cx="931.9" cy="590.3" r="1.20"/><circle cx="928.9" cy="692.3" r="1.20"/><circle cx="928.6" cy="625.8" r="1.20"/><circle cx="931.2" cy="677.5" r="1.20"/><circle cx="925.5" cy="677.1" r="1.20"/><circle cx="931.7" cy="650.7" r="1.20"/><circle cx="926.3" cy="647.0" r="1.20"/><circle cx="930.7" cy="633.1" r="1.20"/><circle cx="930.5" cy="640.4" r="1.20"/><circle cx="927.5" cy="632.1" r="1.20"/><circle cx="925.0" cy="593.2" r="1.20"/><circle cx="925.8" cy="647.7" r="1.20"/><circle cx="930.2" cy="635.4" r="1.20"/><circle cx="932.2" cy="668.3" r="1.20"/><circle cx="927.9" cy="639.3" r="1.20"/><circle cx="924.6" cy="670.5" r="1.20"/><circle cx="930.8" cy="624.0" r="1.20"/><circle cx="924.3" cy="608.5" r="1.20"/><circle cx="925.9" cy="619.1" r="1.20"/><circle cx="928.1" cy="600.6" r="1.20"/><circle cx="929.0" cy="601.3" r="1.20"/><circle cx="927.4" cy="683.8" r="1.20"/><circle cx="925.7" cy="595.4" r="1.20"/><circle cx="926.0" cy="586.2" r="1.20"/><circle cx="932.3" cy="606.0" r="1.20"/><circle cx="933.0" cy="664.9" r="1.20"/><circle cx="926.7" cy="608.3" r="1.20"/><circle cx="926.1" cy="687.5" r="1.20"/><circle cx="930.4" cy="640.2" r="1.20"/><circle cx="925.6" cy="603.6" r="1.20"/><circle cx="926.8" cy="640.3" r="1.20"/><circle cx="927.0" cy="682.6" r="1.20"/><circle cx="932.0" cy="674.7" r="1.20"/><circle cx="927.2" cy="646.3" r="1.20"/><circle cx="924.8" cy="680.0" r="1.20"/><circle cx="931.2" cy="625.9" r="1.20"/><circle cx="928.5" cy="588.2" r="1.20"/><circle cx="928.2" cy="663.9" r="1.20"/><circle cx="932.5" cy="668.3" r="1.20"/><circle cx="929.5" cy="607.7" r="1.20"/><circle cx="926.5" cy="692.8" r="1.20"/><circle cx="925.4" cy="696.6" r="1.20"/><circle cx="933.4" cy="605.9" r="1.20"/><circle cx="925.5" cy="629.7" r="1.20"/><circle cx="926.0" cy="683.8" r="1.20"/><circle cx="924.1" cy="691.6" r="1.20"/><circle cx="924.6" cy="639.5" r="1.20"/><circle cx="930.1" cy="667.4" r="1.20"/><circle cx="924.9" cy="587.8" r="1.20"/><circle cx="925.6" cy="679.6" r="1.20"/><circle cx="930.4" cy="629.1" r="1.20"/><circle cx="926.2" cy="590.6" r="1.20"/><circle cx="932.6" cy="687.0" r="1.20"/><circle cx="929.4" cy="601.1" r="1.20"/><circle cx="925.9" cy="636.6" r="1.20"/><circle cx="930.0" cy="687.8" r="1.20"/><circle cx="928.3" cy="670.7" r="1.20"/><circle cx="928.2" cy="645.2" r="1.20"/><circle cx="933.4" cy="629.7" r="1.20"/><circle cx="932.6" cy="628.3" r="1.20"/><circle cx="927.0" cy="669.8" r="1.20"/><circle cx="929.4" cy="679.1" r="1.20"/><circle cx="933.2" cy="688.6" r="1.20"/><circle cx="931.3" cy="594.3" r="1.20"/><circle cx="926.4" cy="674.8" r="1.20"/><circle cx="930.6" cy="586.8" r="1.20"/><circle cx="932.5" cy="584.4" r="1.20"/><circle cx="932.0" cy="691.3" r="1.20"/><circle cx="928.4" cy="613.9" r="1.20"/><circle cx="927.9" cy="649.4" r="1.20"/><circle cx="929.1" cy="664.6" r="1.20"/><circle cx="933.2" cy="665.5" r="1.20"/><circle cx="931.7" cy="655.0" r="1.20"/><circle cx="928.0" cy="613.3" r="1.20"/><circle cx="931.0" cy="677.7" r="1.20"/><circle cx="926.5" cy="643.0" r="1.20"/><circle cx="925.1" cy="653.5" r="1.20"/><circle cx="929.0" cy="655.1" r="1.20"/><circle cx="924.5" cy="611.9" r="1.20"/><circle cx="929.1" cy="693.4" r="1.20"/><circle cx="931.9" cy="678.6" r="1.20"/><circle cx="927.7" cy="621.1" r="1.20"/><circle cx="932.7" cy="672.4" r="1.20"/><circle cx="928.7" cy="654.7" r="1.20"/><circle cx="924.0" cy="615.0" r="1.20"/><circle cx="928.4" cy="586.3" r="1.20"/><circle cx="928.6" cy="589.9" r="1.20"/><circle cx="927.6" cy="615.8" r="1.20"/><circle cx="932.0" cy="588.4" r="1.20"/><circle cx="927.7" cy="605.3" r="1.20"/><circle cx="928.9" cy="618.4" r="1.20"/><circle cx="925.4" cy="639.4" r="1.20"/><circle cx="926.8" cy="584.3" r="1.20"/><circle cx="926.9" cy="661.9" r="1.20"/><circle cx="925.4" cy="695.2" r="1.20"/><circle cx="928.4" cy="640.1" r="1.20"/><circle cx="926.3" cy="646.2" r="1.20"/><circle cx="931.1" cy="655.4" r="1.20"/><circle cx="932.0" cy="586.8" r="1.20"/><circle cx="932.3" cy="653.0" r="1.20"/><circle cx="927.8" cy="600.9" r="1.20"/><circle cx="924.7" cy="636.3" r="1.20"/><circle cx="930.8" cy="683.1" r="1.20"/><circle cx="931.8" cy="634.7" r="1.20"/><circle cx="927.2" cy="599.8" r="1.20"/><circle cx="928.5" cy="688.5" r="1.20"/><circle cx="931.0" cy="609.0" r="1.20"/><circle cx="926.0" cy="641.2" r="1.20"/><circle cx="931.9" cy="684.8" r="1.20"/><circle cx="924.5" cy="641.4" r="1.20"/><circle cx="928.9" cy="622.8" r="1.20"/><circle cx="924.2" cy="628.8" r="1.20"/><circle cx="929.2" cy="639.2" r="1.20"/><circle cx="926.4" cy="647.0" r="1.20"/><circle cx="933.0" cy="628.7" r="1.20"/><circle cx="933.4" cy="604.4" r="1.20"/><circle cx="929.0" cy="657.2" r="1.20"/><circle cx="926.5" cy="661.4" r="1.20"/><circle cx="929.3" cy="641.0" r="1.20"/><circle cx="931.3" cy="636.3" r="1.20"/><circle cx="924.1" cy="630.0" r="1.20"/><circle cx="929.2" cy="681.7" r="1.20"/><circle cx="931.5" cy="612.0" r="1.20"/><circle cx="924.2" cy="655.0" r="1.20"/><circle cx="930.7" cy="621.4" r="1.20"/><circle cx="925.5" cy="655.5" r="1.20"/><circle cx="930.3" cy="647.5" r="1.20"/><circle cx="933.0" cy="584.3" r="1.20"/><circle cx="927.9" cy="674.1" r="1.20"/><circle cx="926.9" cy="657.4" r="1.20"/><circle cx="933.2" cy="601.9" r="1.20"/><circle cx="932.5" cy="685.7" r="1.20"/><circle cx="927.8" cy="657.5" r="1.20"/><circle cx="930.0" cy="672.2" r="1.20"/><circle cx="927.6" cy="589.4" r="1.20"/><circle cx="926.7" cy="587.0" r="1.20"/><circle cx="924.1" cy="585.4" r="1.20"/><circle cx="928.2" cy="630.2" r="1.20"/><circle cx="927.2" cy="682.9" r="1.20"/><circle cx="925.1" cy="597.8" r="1.20"/><circle cx="933.3" cy="621.6" r="1.20"/><circle cx="928.1" cy="640.7" r="1.20"/><circle cx="924.4" cy="621.4" r="1.20"/><circle cx="932.7" cy="628.5" r="1.20"/><circle cx="928.3" cy="654.4" r="1.20"/><circle cx="931.8" cy="605.2" r="1.20"/><circle cx="926.7" cy="638.1" r="1.20"/><circle cx="930.3" cy="591.6" r="1.20"/><circle cx="929.8" cy="656.9" r="1.20"/><circle cx="929.7" cy="627.1" r="1.20"/><circle cx="924.7" cy="598.0" r="1.20"/><circle cx="928.4" cy="632.9" r="1.20"/><circle cx="929.0" cy="593.5" r="1.20"/><circle cx="924.9" cy="612.3" r="1.20"/><circle cx="933.3" cy="594.7" r="1.20"/><circle cx="931.4" cy="673.5" r="1.20"/><circle cx="924.5" cy="615.4" r="1.20"/><circle cx="928.2" cy="691.9" r="1.20"/><circle cx="927.5" cy="619.7" r="1.20"/><circle cx="926.6" cy="657.9" r="1.20"/><circle cx="930.4" cy="606.6" r="1.20"/><circle cx="933.4" cy="601.2" r="1.20"/><circle cx="927.3" cy="626.5" r="1.20"/><circle cx="932.7" cy="645.1" r="1.20"/><circle cx="932.6" cy="621.0" r="1.20"/><circle cx="924.1" cy="684.5" r="1.20"/><circle cx="924.9" cy="678.4" r="1.20"/><circle cx="928.7" cy="608.1" r="1.20"/><circle cx="930.4" cy="684.7" r="1.20"/><circle cx="927.6" cy="663.5" r="1.20"/><circle cx="928.9" cy="613.7" r="1.20"/><circle cx="928.3" cy="693.3" r="1.20"/><circle cx="926.3" cy="649.2" r="1.20"/><circle cx="925.8" cy="679.2" r="1.20"/><circle cx="928.9" cy="664.3" r="1.20"/><circle cx="927.6" cy="652.0" r="1.20"/><circle cx="929.9" cy="584.3" r="1.20"/><circle cx="926.4" cy="608.6" r="1.20"/><circle cx="926.3" cy="692.7" r="1.20"/><circle cx="929.7" cy="614.5" r="1.20"/><circle cx="926.9" cy="627.3" r="1.20"/><circle cx="929.2" cy="687.7" r="1.20"/><circle cx="926.7" cy="611.4" r="1.20"/><circle cx="930.6" cy="670.8" r="1.20"/><circle cx="927.0" cy="641.1" r="1.20"/><circle cx="927.1" cy="668.8" r="1.20"/><circle cx="933.2" cy="605.0" r="1.20"/><circle cx="924.4" cy="653.9" r="1.20"/><circle cx="932.1" cy="666.8" r="1.20"/><circle cx="933.4" cy="652.0" r="1.20"/><circle cx="929.4" cy="679.8" r="1.20"/><circle cx="929.2" cy="613.4" r="1.20"/><circle cx="930.0" cy="668.3" r="1.20"/><circle cx="928.8" cy="604.1" r="1.20"/><circle cx="931.4" cy="624.8" r="1.20"/><circle cx="924.5" cy="628.4" r="1.20"/><circle cx="924.4" cy="639.7" r="1.20"/><circle cx="929.1" cy="608.4" r="1.20"/><circle cx="924.8" cy="592.3" r="1.20"/><circle cx="929.5" cy="666.5" r="1.20"/><circle cx="933.5" cy="613.4" r="1.20"/><circle cx="929.8" cy="603.3" r="1.20"/><circle cx="928.3" cy="675.9" r="1.20"/><circle cx="929.8" cy="646.6" r="1.20"/><circle cx="929.5" cy="603.0" r="1.20"/><circle cx="925.1" cy="656.8" r="1.20"/><circle cx="926.7" cy="682.4" r="1.20"/><circle cx="928.2" cy="665.5" r="1.20"/><circle cx="932.6" cy="584.3" r="1.20"/><circle cx="925.6" cy="693.5" r="1.20"/><circle cx="927.7" cy="593.9" r="1.20"/><circle cx="927.9" cy="622.7" r="1.20"/><circle cx="932.9" cy="652.9" r="1.20"/><circle cx="932.6" cy="640.4" r="1.20"/><circle cx="925.1" cy="628.5" r="1.20"/><circle cx="924.3" cy="651.0" r="1.20"/><circle cx="928.0" cy="628.6" r="1.20"/><circle cx="927.4" cy="584.1" r="1.20"/><circle cx="925.9" cy="634.5" r="1.20"/><circle cx="930.8" cy="654.9" r="1.20"/><circle cx="931.8" cy="619.2" r="1.20"/><circle cx="930.1" cy="651.0" r="1.20"/><circle cx="926.5" cy="644.6" r="1.20"/><circle cx="927.1" cy="671.5" r="1.20"/><circle cx="926.3" cy="635.7" r="1.20"/><circle cx="931.7" cy="615.3" r="1.20"/><circle cx="928.9" cy="620.1" r="1.20"/><circle cx="930.6" cy="673.6" r="1.20"/><circle cx="930.3" cy="654.5" r="1.20"/><circle cx="926.2" cy="685.6" r="1.20"/><circle cx="927.0" cy="633.6" r="1.20"/><circle cx="926.4" cy="674.6" r="1.20"/><circle cx="932.7" cy="658.5" r="1.20"/><circle cx="924.7" cy="662.9" r="1.20"/><circle cx="931.5" cy="602.7" r="1.20"/><circle cx="929.2" cy="635.2" r="1.20"/><circle cx="931.2" cy="611.8" r="1.20"/><circle cx="928.7" cy="655.0" r="1.20"/><circle cx="929.8" cy="597.6" r="1.20"/><circle cx="932.7" cy="673.2" r="1.20"/><circle cx="929.9" cy="634.8" r="1.20"/><circle cx="925.8" cy="598.3" r="1.20"/><circle cx="929.4" cy="613.9" r="1.20"/><circle cx="926.3" cy="636.7" r="1.20"/><circle cx="931.3" cy="652.3" r="1.20"/><circle cx="933.3" cy="622.1" r="1.20"/><circle cx="926.4" cy="596.8" r="1.20"/><circle cx="924.4" cy="671.7" r="1.20"/><circle cx="927.0" cy="676.8" r="1.20"/><circle cx="927.5" cy="600.1" r="1.20"/><circle cx="931.8" cy="669.3" r="1.20"/><circle cx="930.9" cy="586.7" r="1.20"/><circle cx="933.4" cy="694.0" r="1.20"/><circle cx="928.7" cy="676.6" r="1.20"/><circle cx="928.6" cy="598.1" r="1.20"/><circle cx="925.0" cy="614.2" r="1.20"/><circle cx="925.5" cy="682.2" r="1.20"/><circle cx="926.7" cy="629.6" r="1.20"/><circle cx="931.9" cy="683.0" r="1.20"/><circle cx="930.8" cy="640.4" r="1.20"/><circle cx="931.8" cy="612.9" r="1.20"/><circle cx="930.7" cy="612.2" r="1.20"/><circle cx="928.3" cy="588.2" r="1.20"/><circle cx="924.6" cy="654.8" r="1.20"/><circle cx="929.0" cy="667.1" r="1.20"/><circle cx="929.3" cy="676.7" r="1.20"/><circle cx="928.2" cy="604.5" r="1.20"/><circle cx="927.9" cy="622.2" r="1.20"/><circle cx="932.6" cy="687.6" r="1.20"/><circle cx="930.3" cy="682.9" r="1.20"/><circle cx="930.0" cy="669.1" r="1.20"/><circle cx="924.9" cy="686.4" r="1.20"/><circle cx="928.8" cy="607.6" r="1.20"/><circle cx="925.6" cy="691.8" r="1.20"/><circle cx="927.2" cy="691.9" r="1.20"/><circle cx="931.2" cy="673.8" r="1.20"/><circle cx="929.4" cy="643.1" r="1.20"/><circle cx="925.6" cy="665.8" r="1.20"/><circle cx="924.2" cy="598.7" r="1.20"/><circle cx="926.3" cy="613.6" r="1.20"/><circle cx="931.9" cy="634.5" r="1.20"/><circle cx="929.9" cy="622.9" r="1.20"/><circle cx="931.5" cy="641.0" r="1.20"/><circle cx="928.6" cy="641.8" r="1.20"/><circle cx="927.8" cy="591.0" r="1.20"/><circle cx="933.3" cy="593.6" r="1.20"/><circle cx="926.5" cy="640.5" r="1.20"/><circle cx="925.9" cy="623.2" r="1.20"/><circle cx="924.1" cy="603.0" r="1.20"/><circle cx="932.2" cy="645.2" r="1.20"/><circle cx="928.0" cy="611.1" r="1.20"/><circle cx="930.9" cy="675.6" r="1.20"/><circle cx="929.0" cy="627.2" r="1.20"/><circle cx="928.1" cy="672.9" r="1.20"/><circle cx="929.3" cy="625.0" r="1.20"/><circle cx="930.3" cy="584.6" r="1.20"/><circle cx="926.9" cy="658.7" r="1.20"/><circle cx="924.2" cy="690.0" r="1.20"/><circle cx="925.8" cy="584.0" r="1.20"/><circle cx="933.2" cy="674.0" r="1.20"/><circle cx="928.6" cy="664.9" r="1.20"/><circle cx="929.4" cy="602.6" r="1.20"/><circle cx="926.1" cy="656.1" r="1.20"/><circle cx="926.5" cy="592.9" r="1.20"/><circle cx="931.9" cy="656.8" r="1.20"/><circle cx="926.3" cy="672.4" r="1.20"/><circle cx="925.4" cy="671.3" r="1.20"/><circle cx="931.9" cy="653.8" r="1.20"/><circle cx="925.6" cy="631.8" r="1.20"/><circle cx="930.8" cy="630.4" r="1.20"/><circle cx="926.6" cy="684.2" r="1.20"/><circle cx="932.6" cy="662.6" r="1.20"/><circle cx="931.5" cy="651.0" r="1.20"/><circle cx="927.8" cy="659.3" r="1.20"/><circle cx="930.6" cy="638.6" r="1.20"/><circle cx="929.7" cy="628.9" r="1.20"/><circle cx="928.8" cy="668.3" r="1.20"/><circle cx="931.9" cy="690.1" r="1.20"/><circle cx="932.6" cy="589.4" r="1.20"/><circle cx="931.6" cy="623.3" r="1.20"/><circle cx="933.1" cy="673.3" r="1.20"/><circle cx="925.1" cy="623.5" r="1.20"/><circle cx="931.0" cy="654.1" r="1.20"/><circle cx="928.3" cy="615.6" r="1.20"/><circle cx="929.3" cy="640.2" r="1.20"/><circle cx="931.2" cy="592.5" r="1.20"/><circle cx="924.9" cy="595.2" r="1.20"/><circle cx="929.7" cy="617.3" r="1.20"/><circle cx="927.5" cy="642.7" r="1.20"/><circle cx="927.3" cy="668.6" r="1.20"/><circle cx="924.1" cy="691.3" r="1.20"/><circle cx="928.7" cy="672.4" r="1.20"/><circle cx="925.7" cy="615.4" r="1.20"/><circle cx="931.7" cy="683.3" r="1.20"/><circle cx="932.4" cy="647.2" r="1.20"/><circle cx="931.8" cy="586.8" r="1.20"/><circle cx="931.7" cy="687.5" r="1.20"/><circle cx="928.0" cy="659.5" r="1.20"/><circle cx="928.7" cy="694.6" r="1.20"/><circle cx="929.7" cy="592.0" r="1.20"/><circle cx="928.3" cy="618.7" r="1.20"/><circle cx="931.3" cy="615.8" r="1.20"/><circle cx="926.3" cy="656.8" r="1.20"/><circle cx="932.3" cy="613.8" r="1.20"/><circle cx="925.2" cy="611.9" r="1.20"/><circle cx="929.3" cy="677.0" r="1.20"/><circle cx="931.8" cy="663.7" r="1.20"/><circle cx="926.6" cy="609.3" r="1.20"/><circle cx="924.6" cy="671.8" r="1.20"/><circle cx="925.7" cy="588.3" r="1.20"/><circle cx="931.6" cy="657.4" r="1.20"/><circle cx="931.5" cy="681.9" r="1.20"/><circle cx="925.2" cy="652.0" r="1.20"/><circle cx="929.8" cy="611.7" r="1.20"/><circle cx="931.3" cy="617.6" r="1.20"/><circle cx="929.5" cy="688.5" r="1.20"/><circle cx="932.3" cy="635.9" r="1.20"/><circle cx="932.1" cy="689.1" r="1.20"/><circle cx="933.4" cy="590.3" r="1.20"/><circle cx="925.5" cy="688.3" r="1.20"/><circle cx="924.9" cy="694.9" r="1.20"/><circle cx="925.5" cy="662.6" r="1.20"/><circle cx="930.9" cy="601.8" r="1.20"/><circle cx="925.7" cy="695.3" r="1.20"/><circle cx="930.5" cy="671.1" r="1.20"/><circle cx="927.6" cy="620.6" r="1.20"/><circle cx="926.8" cy="684.9" r="1.20"/><circle cx="928.2" cy="619.3" r="1.20"/><circle cx="929.6" cy="670.8" r="1.20"/><circle cx="930.7" cy="658.2" r="1.20"/><circle cx="926.9" cy="690.6" r="1.20"/><circle cx="925.1" cy="690.6" r="1.20"/><circle cx="929.7" cy="635.7" r="1.20"/><circle cx="929.8" cy="645.2" r="1.20"/><circle cx="928.6" cy="690.5" r="1.20"/><circle cx="926.6" cy="675.8" r="1.20"/><circle cx="929.7" cy="629.4" r="1.20"/><circle cx="926.0" cy="628.3" r="1.20"/><circle cx="924.2" cy="611.1" r="1.20"/><circle cx="929.7" cy="625.9" r="1.20"/><circle cx="926.8" cy="664.4" r="1.20"/><circle cx="925.8" cy="594.3" r="1.20"/><circle cx="929.5" cy="587.3" r="1.20"/><circle cx="927.9" cy="662.4" r="1.20"/><circle cx="927.2" cy="695.5" r="1.20"/><circle cx="928.5" cy="603.2" r="1.20"/><circle cx="924.7" cy="688.3" r="1.20"/><circle cx="925.3" cy="644.3" r="1.20"/><circle cx="929.4" cy="685.0" r="1.20"/><circle cx="933.5" cy="687.2" r="1.20"/><circle cx="928.9" cy="591.0" r="1.20"/><circle cx="925.1" cy="629.6" r="1.20"/><circle cx="927.7" cy="673.0" r="1.20"/><circle cx="929.5" cy="626.5" r="1.20"/><circle cx="929.9" cy="677.0" r="1.20"/><circle cx="929.6" cy="685.8" r="1.20"/><circle cx="924.7" cy="694.3" r="1.20"/><circle cx="931.4" cy="646.6" r="1.20"/><circle cx="929.7" cy="619.6" r="1.20"/><circle cx="931.1" cy="693.7" r="1.20"/><circle cx="929.5" cy="678.5" r="1.20"/><circle cx="932.4" cy="662.5" r="1.20"/><circle cx="929.2" cy="595.1" r="1.20"/><circle cx="931.6" cy="605.2" r="1.20"/><circle cx="932.6" cy="677.9" r="1.20"/><circle cx="928.5" cy="670.1" r="1.20"/><circle cx="932.1" cy="682.4" r="1.20"/><circle cx="925.9" cy="612.2" r="1.20"/><circle cx="927.6" cy="587.7" r="1.20"/><circle cx="924.9" cy="590.1" r="1.20"/><circle cx="927.9" cy="667.0" r="1.20"/><circle cx="929.1" cy="670.2" r="1.20"/><circle cx="924.7" cy="648.4" r="1.20"/><circle cx="930.4" cy="624.0" r="1.20"/><circle cx="931.5" cy="592.0" r="1.20"/><circle cx="928.6" cy="674.4" r="1.20"/><circle cx="925.8" cy="683.0" r="1.20"/><circle cx="924.8" cy="630.0" r="1.20"/><circle cx="933.0" cy="678.1" r="1.20"/><circle cx="924.8" cy="683.2" r="1.20"/><circle cx="932.5" cy="681.5" r="1.20"/><circle cx="924.9" cy="613.4" r="1.20"/><circle cx="928.2" cy="584.3" r="1.20"/><circle cx="924.7" cy="692.1" r="1.20"/><circle cx="926.7" cy="614.7" r="1.20"/><circle cx="925.3" cy="599.7" r="1.20"/><circle cx="929.3" cy="626.4" r="1.20"/><circle cx="931.8" cy="622.7" r="1.20"/><circle cx="927.7" cy="586.8" r="1.20"/><circle cx="926.9" cy="679.6" r="1.20"/><circle cx="928.6" cy="605.7" r="1.20"/><circle cx="924.1" cy="682.9" r="1.20"/><circle cx="929.7" cy="648.0" r="1.20"/><circle cx="929.4" cy="594.1" r="1.20"/><circle cx="932.8" cy="682.9" r="1.20"/><circle cx="924.1" cy="644.2" r="1.20"/><circle cx="929.5" cy="641.8" r="1.20"/><circle cx="927.9" cy="603.6" r="1.20"/><circle cx="930.8" cy="594.7" r="1.20"/><circle cx="927.6" cy="584.6" r="1.20"/><circle cx="927.5" cy="615.1" r="1.20"/><circle cx="929.5" cy="664.6" r="1.20"/><circle cx="926.4" cy="688.8" r="1.20"/><circle cx="926.3" cy="595.3" r="1.20"/><circle cx="928.0" cy="662.4" r="1.20"/><circle cx="928.7" cy="687.9" r="1.20"/><circle cx="924.0" cy="679.9" r="1.20"/><circle cx="928.3" cy="592.6" r="1.20"/><circle cx="926.4" cy="691.6" r="1.20"/><circle cx="929.4" cy="641.0" r="1.20"/><circle cx="930.4" cy="589.6" r="1.20"/><circle cx="931.8" cy="653.9" r="1.20"/><circle cx="926.5" cy="656.2" r="1.20"/><circle cx="927.4" cy="643.3" r="1.20"/><circle cx="928.1" cy="673.4" r="1.20"/><circle cx="926.0" cy="618.8" r="1.20"/><circle cx="928.4" cy="685.1" r="1.20"/><circle cx="933.4" cy="612.3" r="1.20"/><circle cx="928.9" cy="654.1" r="1.20"/><circle cx="924.6" cy="610.9" r="1.20"/><circle cx="932.9" cy="651.4" r="1.20"/><circle cx="925.9" cy="588.7" r="1.20"/><circle cx="929.3" cy="654.5" r="1.20"/><circle cx="926.4" cy="673.8" r="1.20"/><circle cx="927.7" cy="667.5" r="1.20"/><circle cx="924.9" cy="629.5" r="1.20"/><circle cx="929.3" cy="640.4" r="1.20"/><circle cx="925.5" cy="616.5" r="1.20"/><circle cx="931.3" cy="614.6" r="1.20"/><circle cx="925.2" cy="659.9" r="1.20"/><circle cx="933.4" cy="661.1" r="1.20"/><circle cx="932.0" cy="639.5" r="1.20"/><circle cx="932.1" cy="600.2" r="1.20"/><circle cx="924.3" cy="655.2" r="1.20"/><circle cx="930.2" cy="664.3" r="1.20"/><circle cx="931.7" cy="627.4" r="1.20"/><circle cx="931.7" cy="663.2" r="1.20"/><circle cx="927.8" cy="622.1" r="1.20"/><circle cx="924.7" cy="669.8" r="1.20"/><circle cx="931.8" cy="663.9" r="1.20"/><circle cx="930.0" cy="600.0" r="1.20"/><circle cx="931.3" cy="600.4" r="1.20"/><circle cx="933.1" cy="690.8" r="1.20"/><circle cx="924.5" cy="620.8" r="1.20"/><circle cx="931.0" cy="678.4" r="1.20"/><circle cx="931.6" cy="594.3" r="1.20"/><circle cx="925.2" cy="628.4" r="1.20"/><circle cx="932.8" cy="631.6" r="1.20"/><circle cx="927.2" cy="658.5" r="1.20"/><circle cx="928.7" cy="604.1" r="1.20"/><circle cx="926.0" cy="690.0" r="1.20"/><circle cx="924.9" cy="694.8" r="1.20"/><circle cx="926.5" cy="613.0" r="1.20"/><circle cx="925.1" cy="611.1" r="1.20"/><circle cx="932.3" cy="584.6" r="1.20"/><circle cx="931.1" cy="608.4" r="1.20"/><circle cx="926.8" cy="685.0" r="1.20"/><circle cx="930.2" cy="626.9" r="1.20"/><circle cx="926.1" cy="640.1" r="1.20"/><circle cx="928.9" cy="667.9" r="1.20"/><circle cx="931.2" cy="627.3" r="1.20"/><circle cx="932.2" cy="625.6" r="1.20"/><circle cx="929.3" cy="590.9" r="1.20"/><circle cx="929.2" cy="619.2" r="1.20"/><circle cx="932.8" cy="596.0" r="1.20"/><circle cx="924.6" cy="646.3" r="1.20"/><circle cx="931.8" cy="640.5" r="1.20"/><circle cx="927.3" cy="631.1" r="1.20"/><circle cx="930.6" cy="685.7" r="1.20"/><circle cx="933.1" cy="588.2" r="1.20"/><circle cx="926.9" cy="623.5" r="1.20"/><circle cx="925.6" cy="661.1" r="1.20"/><circle cx="932.9" cy="636.0" r="1.20"/><circle cx="933.2" cy="693.2" r="1.20"/><circle cx="926.6" cy="687.8" r="1.20"/><circle cx="931.8" cy="598.7" r="1.20"/><circle cx="925.6" cy="671.5" r="1.20"/><circle cx="927.9" cy="624.2" r="1.20"/><circle cx="930.6" cy="631.9" r="1.20"/><circle cx="931.0" cy="605.4" r="1.20"/><circle cx="931.3" cy="695.6" r="1.20"/><circle cx="930.6" cy="654.2" r="1.20"/><circle cx="933.0" cy="643.5" r="1.20"/><circle cx="933.4" cy="632.6" r="1.20"/><circle cx="927.1" cy="599.4" r="1.20"/><circle cx="925.4" cy="624.3" r="1.20"/><circle cx="928.2" cy="654.3" r="1.20"/><circle cx="927.2" cy="667.1" r="1.20"/><circle cx="925.0" cy="656.9" r="1.20"/><circle cx="924.4" cy="695.5" r="1.20"/><circle cx="927.1" cy="680.1" r="1.20"/><circle cx="930.9" cy="621.0" r="1.20"/><circle cx="932.6" cy="584.1" r="1.20"/><circle cx="924.8" cy="603.1" r="1.20"/><circle cx="932.2" cy="608.0" r="1.20"/><circle cx="932.2" cy="622.8" r="1.20"/><circle cx="928.6" cy="645.4" r="1.20"/><circle cx="926.1" cy="584.2" r="1.20"/><circle cx="924.2" cy="639.5" r="1.20"/><circle cx="932.5" cy="603.3" r="1.20"/><circle cx="926.8" cy="585.3" r="1.20"/><circle cx="924.5" cy="653.7" r="1.20"/><circle cx="927.3" cy="658.5" r="1.20"/><circle cx="928.4" cy="643.1" r="1.20"/><circle cx="932.1" cy="648.9" r="1.20"/><circle cx="928.4" cy="586.5" r="1.20"/><circle cx="932.8" cy="637.7" r="1.20"/><circle cx="924.6" cy="611.7" r="1.20"/><circle cx="925.5" cy="682.3" r="1.20"/><circle cx="933.2" cy="656.9" r="1.20"/><circle cx="929.6" cy="651.1" r="1.20"/><circle cx="931.8" cy="619.8" r="1.20"/><circle cx="927.3" cy="696.9" r="1.20"/><circle cx="932.2" cy="596.2" r="1.20"/><circle cx="929.4" cy="659.4" r="1.20"/><circle cx="925.4" cy="649.4" r="1.20"/><circle cx="928.8" cy="678.4" r="1.20"/><circle cx="928.8" cy="657.5" r="1.20"/><circle cx="924.7" cy="643.1" r="1.20"/><circle cx="931.0" cy="596.1" r="1.20"/><circle cx="927.3" cy="593.9" r="1.20"/><circle cx="932.3" cy="678.6" r="1.20"/><circle cx="924.7" cy="680.5" r="1.20"/><circle cx="929.2" cy="683.4" r="1.20"/><circle cx="930.1" cy="678.2" r="1.20"/><circle cx="927.0" cy="647.5" r="1.20"/><circle cx="933.3" cy="617.2" r="1.20"/><circle cx="924.7" cy="660.4" r="1.20"/><circle cx="933.4" cy="595.9" r="1.20"/><circle cx="931.5" cy="599.8" r="1.20"/><circle cx="927.4" cy="677.9" r="1.20"/><circle cx="927.9" cy="598.6" r="1.20"/><circle cx="924.3" cy="639.9" r="1.20"/><circle cx="929.5" cy="692.8" r="1.20"/><circle cx="927.0" cy="588.1" r="1.20"/><circle cx="930.9" cy="629.5" r="1.20"/><circle cx="924.9" cy="627.4" r="1.20"/><circle cx="925.5" cy="584.2" r="1.20"/><circle cx="931.4" cy="625.9" r="1.20"/><circle cx="929.3" cy="611.3" r="1.20"/><circle cx="932.2" cy="626.1" r="1.20"/><circle cx="928.4" cy="658.1" r="1.20"/><circle cx="929.3" cy="604.6" r="1.20"/><circle cx="929.3" cy="633.7" r="1.20"/><circle cx="932.5" cy="632.2" r="1.20"/><circle cx="929.2" cy="596.2" r="1.20"/><circle cx="930.9" cy="651.4" r="1.20"/><circle cx="928.4" cy="642.6" r="1.20"/><circle cx="930.4" cy="695.6" r="1.20"/><circle cx="931.2" cy="623.1" r="1.20"/><circle cx="931.1" cy="692.6" r="1.20"/><circle cx="927.0" cy="695.4" r="1.20"/><circle cx="930.0" cy="687.9" r="1.20"/><circle cx="926.9" cy="630.2" r="1.20"/><circle cx="933.1" cy="670.6" r="1.20"/><circle cx="929.0" cy="637.5" r="1.20"/><circle cx="926.1" cy="590.8" r="1.20"/><circle cx="932.2" cy="640.8" r="1.20"/><circle cx="930.7" cy="643.5" r="1.20"/><circle cx="926.7" cy="595.5" r="1.20"/><circle cx="927.5" cy="622.7" r="1.20"/><circle cx="924.2" cy="621.2" r="1.20"/><circle cx="925.1" cy="609.1" r="1.20"/><circle cx="933.4" cy="670.9" r="1.20"/><circle cx="926.7" cy="595.1" r="1.20"/><circle cx="929.5" cy="676.3" r="1.20"/><circle cx="932.4" cy="609.7" r="1.20"/><circle cx="927.7" cy="586.6" r="1.20"/><circle cx="924.8" cy="665.7" r="1.20"/><circle cx="927.8" cy="683.3" r="1.20"/><circle cx="931.2" cy="621.3" r="1.20"/><circle cx="924.2" cy="598.9" r="1.20"/><circle cx="924.6" cy="646.2" r="1.20"/><circle cx="926.4" cy="592.0" r="1.20"/><circle cx="929.7" cy="651.7" r="1.20"/><circle cx="925.1" cy="657.1" r="1.20"/><circle cx="932.1" cy="659.7" r="1.20"/><circle cx="925.3" cy="604.0" r="1.20"/><circle cx="926.9" cy="658.1" r="1.20"/><circle cx="932.0" cy="675.5" r="1.20"/><circle cx="933.3" cy="632.3" r="1.20"/><circle cx="931.7" cy="679.4" r="1.20"/><circle cx="930.8" cy="629.4" r="1.20"/><circle cx="925.2" cy="682.1" r="1.20"/><circle cx="933.0" cy="668.0" r="1.20"/><circle cx="929.0" cy="675.0" r="1.20"/><circle cx="929.9" cy="586.4" r="1.20"/><circle cx="930.5" cy="672.2" r="1.20"/><circle cx="926.0" cy="623.3" r="1.20"/><circle cx="931.7" cy="670.8" r="1.20"/><circle cx="932.0" cy="595.0" r="1.20"/><circle cx="924.6" cy="639.2" r="1.20"/><circle cx="931.3" cy="589.0" r="1.20"/><circle cx="925.0" cy="591.7" r="1.20"/><circle cx="926.5" cy="621.2" r="1.20"/><circle cx="930.0" cy="643.1" r="1.20"/><circle cx="932.8" cy="631.9" r="1.20"/><circle cx="930.2" cy="626.2" r="1.20"/><circle cx="925.3" cy="645.4" r="1.20"/><circle cx="932.7" cy="592.1" r="1.20"/><circle cx="932.7" cy="596.0" r="1.20"/><circle cx="930.0" cy="684.6" r="1.20"/><circle cx="933.2" cy="684.3" r="1.20"/><circle cx="928.4" cy="674.9" r="1.20"/><circle cx="925.3" cy="674.7" r="1.20"/><circle cx="929.7" cy="674.0" r="1.20"/><circle cx="931.7" cy="658.2" r="1.20"/><circle cx="931.3" cy="609.3" r="1.20"/><circle cx="930.8" cy="663.2" r="1.20"/><circle cx="931.0" cy="675.4" r="1.20"/><circle cx="926.8" cy="693.2" r="1.20"/><circle cx="924.3" cy="650.0" r="1.20"/><circle cx="924.9" cy="606.8" r="1.20"/><circle cx="924.3" cy="610.5" r="1.20"/><circle cx="929.6" cy="633.0" r="1.20"/><circle cx="927.1" cy="654.3" r="1.20"/><circle cx="928.4" cy="620.8" r="1.20"/><circle cx="930.9" cy="695.4" r="1.20"/><circle cx="927.9" cy="598.8" r="1.20"/><circle cx="928.4" cy="661.6" r="1.20"/><circle cx="924.3" cy="596.7" r="1.20"/><circle cx="931.5" cy="592.9" r="1.20"/><circle cx="931.7" cy="668.6" r="1.20"/><circle cx="931.6" cy="618.4" r="1.20"/><circle cx="930.9" cy="655.6" r="1.20"/><circle cx="925.6" cy="643.9" r="1.20"/><circle cx="927.9" cy="618.9" r="1.20"/><circle cx="925.9" cy="650.2" r="1.20"/><circle cx="926.9" cy="693.5" r="1.20"/><circle cx="928.1" cy="597.8" r="1.20"/><circle cx="929.5" cy="612.0" r="1.20"/><circle cx="926.5" cy="661.9" r="1.20"/><circle cx="928.8" cy="639.6" r="1.20"/><circle cx="924.9" cy="684.2" r="1.20"/><circle cx="926.0" cy="618.9" r="1.20"/><circle cx="928.6" cy="682.7" r="1.20"/><circle cx="926.7" cy="610.8" r="1.20"/><circle cx="929.5" cy="650.0" r="1.20"/><circle cx="931.9" cy="693.0" r="1.20"/><circle cx="928.2" cy="592.7" r="1.20"/><circle cx="925.2" cy="634.2" r="1.20"/><circle cx="930.7" cy="658.5" r="1.20"/><circle cx="931.0" cy="602.2" r="1.20"/><circle cx="932.8" cy="589.5" r="1.20"/><circle cx="931.4" cy="652.8" r="1.20"/><circle cx="927.8" cy="651.4" r="1.20"/><circle cx="926.6" cy="617.6" r="1.20"/><circle cx="924.1" cy="649.9" r="1.20"/><circle cx="924.3" cy="589.0" r="1.20"/><circle cx="926.9" cy="683.8" r="1.20"/><circle cx="928.3" cy="663.7" r="1.20"/><circle cx="932.2" cy="683.0" r="1.20"/><circle cx="929.5" cy="585.3" r="1.20"/><circle cx="927.5" cy="608.3" r="1.20"/><circle cx="926.9" cy="628.5" r="1.20"/><circle cx="929.1" cy="616.3" r="1.20"/><circle cx="932.1" cy="685.4" r="1.20"/><circle cx="933.2" cy="666.1" r="1.20"/><circle cx="931.7" cy="608.7" r="1.20"/><circle cx="928.6" cy="588.9" r="1.20"/><circle cx="927.8" cy="600.8" r="1.20"/><circle cx="928.1" cy="627.6" r="1.20"/><circle cx="928.4" cy="614.1" r="1.20"/><circle cx="933.1" cy="685.8" r="1.20"/><circle cx="932.5" cy="659.9" r="1.20"/><circle cx="931.9" cy="678.7" r="1.20"/><circle cx="926.3" cy="587.6" r="1.20"/><circle cx="929.3" cy="605.0" r="1.20"/><circle cx="927.0" cy="636.0" r="1.20"/><circle cx="932.9" cy="649.1" r="1.20"/><circle cx="927.6" cy="688.7" r="1.20"/><circle cx="933.3" cy="640.3" r="1.20"/><circle cx="927.6" cy="662.8" r="1.20"/><circle cx="925.5" cy="611.4" r="1.20"/><circle cx="929.5" cy="585.2" r="1.20"/><circle cx="929.5" cy="596.9" r="1.20"/><circle cx="925.9" cy="695.7" r="1.20"/><circle cx="931.6" cy="660.4" r="1.20"/><circle cx="927.6" cy="634.2" r="1.20"/><circle cx="930.4" cy="608.6" r="1.20"/><circle cx="927.6" cy="614.9" r="1.20"/><circle cx="925.9" cy="599.2" r="1.20"/><circle cx="932.6" cy="585.8" r="1.20"/><circle cx="927.4" cy="584.1" r="1.20"/><circle cx="925.2" cy="656.8" r="1.20"/><circle cx="924.2" cy="669.1" r="1.20"/><circle cx="933.0" cy="685.5" r="1.20"/><circle cx="925.9" cy="603.4" r="1.20"/><circle cx="928.4" cy="645.3" r="1.20"/><circle cx="925.9" cy="689.8" r="1.20"/><circle cx="931.6" cy="671.5" r="1.20"/><circle cx="927.4" cy="647.1" r="1.20"/><circle cx="930.6" cy="683.0" r="1.20"/><circle cx="931.4" cy="603.8" r="1.20"/><circle cx="931.2" cy="649.2" r="1.20"/><circle cx="930.2" cy="647.5" r="1.20"/><circle cx="929.0" cy="682.3" r="1.20"/><circle cx="932.6" cy="658.9" r="1.20"/><circle cx="928.7" cy="680.1" r="1.20"/><circle cx="933.5" cy="637.1" r="1.20"/><circle cx="925.5" cy="635.3" r="1.20"/><circle cx="924.2" cy="609.8" r="1.20"/><circle cx="929.5" cy="625.4" r="1.20"/><circle cx="931.2" cy="696.2" r="1.20"/><circle cx="932.3" cy="631.4" r="1.20"/><circle cx="927.2" cy="631.6" r="1.20"/><circle cx="928.1" cy="696.2" r="1.20"/><circle cx="930.7" cy="651.8" r="1.20"/><circle cx="931.4" cy="695.9" r="1.20"/><circle cx="932.7" cy="643.0" r="1.20"/><circle cx="925.9" cy="643.3" r="1.20"/><circle cx="926.3" cy="589.3" r="1.20"/><circle cx="928.7" cy="661.4" r="1.20"/><circle cx="929.0" cy="615.1" r="1.20"/><circle cx="927.4" cy="587.5" r="1.20"/><circle cx="929.8" cy="689.9" r="1.20"/><circle cx="927.7" cy="694.4" r="1.20"/><circle cx="929.9" cy="612.1" r="1.20"/><circle cx="925.6" cy="623.0" r="1.20"/><circle cx="926.6" cy="654.5" r="1.20"/><circle cx="932.6" cy="659.8" r="1.20"/><circle cx="930.9" cy="680.3" r="1.20"/><circle cx="928.6" cy="665.3" r="1.20"/><circle cx="926.9" cy="591.8" r="1.20"/><circle cx="924.5" cy="614.1" r="1.20"/><circle cx="930.3" cy="612.7" r="1.20"/><circle cx="925.5" cy="603.9" r="1.20"/><circle cx="932.0" cy="685.0" r="1.20"/><circle cx="930.7" cy="626.1" r="1.20"/><circle cx="926.5" cy="666.2" r="1.20"/><circle cx="924.1" cy="609.6" r="1.20"/><circle cx="926.8" cy="638.0" r="1.20"/><circle cx="927.4" cy="640.3" r="1.20"/><circle cx="932.1" cy="615.2" r="1.20"/><circle cx="926.1" cy="685.8" r="1.20"/><circle cx="927.8" cy="672.1" r="1.20"/><circle cx="932.1" cy="673.1" r="1.20"/><circle cx="933.2" cy="605.6" r="1.20"/><circle cx="928.6" cy="677.0" r="1.20"/><circle cx="924.6" cy="584.5" r="1.20"/><circle cx="930.4" cy="678.8" r="1.20"/><circle cx="929.1" cy="675.1" r="1.20"/><circle cx="925.1" cy="594.4" r="1.20"/><circle cx="928.8" cy="671.8" r="1.20"/><circle cx="927.7" cy="629.7" r="1.20"/><circle cx="929.5" cy="594.2" r="1.20"/><circle cx="929.6" cy="660.1" r="1.20"/><circle cx="930.3" cy="664.1" r="1.20"/><circle cx="928.7" cy="593.1" r="1.20"/><circle cx="931.7" cy="638.5" r="1.20"/><circle cx="931.6" cy="657.2" r="1.20"/><circle cx="929.5" cy="692.0" r="1.20"/><circle cx="927.0" cy="611.6" r="1.20"/><circle cx="925.4" cy="673.4" r="1.20"/><circle cx="927.2" cy="591.5" r="1.20"/><circle cx="932.2" cy="616.7" r="1.20"/><circle cx="927.1" cy="657.2" r="1.20"/><circle cx="927.8" cy="625.6" r="1.20"/><circle cx="932.5" cy="641.5" r="1.20"/><circle cx="924.6" cy="663.3" r="1.20"/><circle cx="930.2" cy="621.6" r="1.20"/><circle cx="932.9" cy="656.7" r="1.20"/><circle cx="924.7" cy="603.0" r="1.20"/><circle cx="927.4" cy="664.0" r="1.20"/><circle cx="926.6" cy="662.6" r="1.20"/><circle cx="932.4" cy="639.0" r="1.20"/><circle cx="925.4" cy="641.7" r="1.20"/><circle cx="932.4" cy="602.2" r="1.20"/></g>
<line x1="60.8" x2="60.8" y1="507.0" y2="714.0" stroke="#000" stroke-width="2"/>
<line x1="59.8" x2="947.7" y1="713.0" y2="713.0" stroke="#000" stroke-width="2"/>
<line x1="89.9" x2="89.9" y1="713.0" y2="718.8" stroke="#000" stroke-width="1.6"/>
<line x1="138.6" x2="138.6" y1="713.0" y2="718.8" stroke="#000" stroke-width="1.6"/>
<line x1="187.3" x2="187.3" y1="713.0" y2="718.8" stroke="#000" stroke-width="1.6"/>
<line x1="235.9" x2="235.9" y1="713.0" y2="718.8" stroke="#000" stroke-width="1.6"/>
<line x1="284.6" x2="284.6" y1="713.0" y2="718.8" stroke="#000" stroke-width="1.6"/>
<line x1="333.3" x2="333.3" y1="713.0" y2="718.8" stroke="#000" stroke-width="1.6"/>
<line x1="382.0" x2="382.0" y1="713.0" y2="718.8" stroke="#000" stroke-width="1.6"/>
<line x1="430.7" x2="430.7" y1="713.0" y2="718.8" stroke="#000" stroke-width="1.6"/>
<line x1="479.3" x2="479.3" y1="713.0" y2="718.8" stroke="#000" stroke-width="1.6"/>
<line x1="528.0" x2="528.0" y1="713.0" y2="718.8" stroke="#000" stroke-width="1.6"/>
<line x1="576.7" x2="576.7" y1="713.0" y2="718.8" stroke="#000" stroke-width="1.6"/>
<line x1="625.4" x2="625.4" y1="713.0" y2="718.8" stroke="#000" stroke-width="1.6"/>
<line x1="674.1" x2="674.1" y1="713.0" y2="718.8" stroke="#000" stroke-width="1.6"/>
<line x1="722.7" x2="722.7" y1="713.0" y2="718.8" stroke="#000" stroke-width="1.6"/>
<line x1="771.4" x2="771.4" y1="713.0" y2="718.8" stroke="#000" stroke-width="1.6"/>
<line x1="820.1" x2="820.1" y1="713.0" y2="718.8" stroke="#000" stroke-width="1.6"/>
<line x1="868.8" x2="868.8" y1="713.0" y2="718.8" stroke="#000" stroke-width="1.6"/>
<line x1="917.5" x2="917.5" y1="713.0" y2="718.8" stroke="#000" stroke-width="1.6"/>
<text transform="translate(99.80 733.60) scale(1.100 1) rotate(-45)" font-size="18.90" text-anchor="end">Dividing Cells</text>
<text transform="translate(148.48 733.60) scale(1.100 1) rotate(-45)" font-size="18.90" text-anchor="end">Initials</text>
<text transform="translate(197.16 733.60) scale(1.100 1) rotate(-45)" font-size="18.90" text-anchor="end">Vascular Initials</text>
<text transform="translate(245.84 733.60) scale(1.100 1) rotate(-45)" font-size="18.90" text-anchor="end">Metaxylem</text>
<text transform="translate(294.52 733.60) scale(1.100 1) rotate(-45)" font-size="18.90" text-anchor="end">Protoxylem</text>
<text transform="translate(343.20 733.60) scale(1.100 1) rotate(-45)" font-size="18.90" text-anchor="end">Procambium</text>
<text transform="translate(391.88 733.60) scale(1.100 1) rotate(-45)" font-size="18.90" text-anchor="end">Cambium</text>
<text transform="translate(440.56 733.60) scale(1.100 1) rotate(-45)" font-size="18.90" text-anchor="end">Phloem Procambium</text>
<text transform="translate(489.24 733.60) scale(1.100 1) rotate(-45)" font-size="18.90" text-anchor="end">Sieve Elements</text>
<text transform="translate(537.92 733.60) scale(1.100 1) rotate(-45)" font-size="18.90" text-anchor="end">Companion Cells</text>
<text transform="translate(586.60 733.60) scale(1.100 1) rotate(-45)" font-size="18.90" text-anchor="end">Pericycle</text>
<text transform="translate(635.28 733.60) scale(1.100 1) rotate(-45)" font-size="18.90" text-anchor="end">Endodermis</text>
<text transform="translate(683.96 733.60) scale(1.100 1) rotate(-45)" font-size="18.90" text-anchor="end">Cortex</text>
<text transform="translate(732.64 733.60) scale(1.100 1) rotate(-45)" font-size="18.90" text-anchor="end">Epidermis</text>
<text transform="translate(781.32 733.60) scale(1.100 1) rotate(-45)" font-size="18.90" text-anchor="end">Trichoblast</text>
<text transform="translate(830.00 733.60) scale(1.100 1) rotate(-45)" font-size="18.90" text-anchor="end">Atrichoblast</text>
<text transform="translate(878.68 733.60) scale(1.100 1) rotate(-45)" font-size="18.90" text-anchor="end">Columella</text>
<text transform="translate(927.36 733.60) scale(1.100 1) rotate(-45)" font-size="18.90" text-anchor="end">Lateral Root Cap</text>
<rect x="972.6" y="591.8" width="25.8" height="22.6" fill="#3d9ad8" stroke="#111" stroke-width="1.4"/>
<rect x="972.6" y="616.6" width="25.8" height="22.6" fill="#e58c2a" stroke="#111" stroke-width="1.4"/>
<text transform="translate(1011.30 610.30) scale(1.100 1)" font-size="19.40">Mock</text>
<text transform="translate(1011.30 634.50) scale(1.100 1)" font-size="19.40">Jasmonate</text>
<text transform="translate(503.85 880.90) scale(1.100 1)" font-size="22.20" text-anchor="middle">Identity</text>
</svg></body></html>
